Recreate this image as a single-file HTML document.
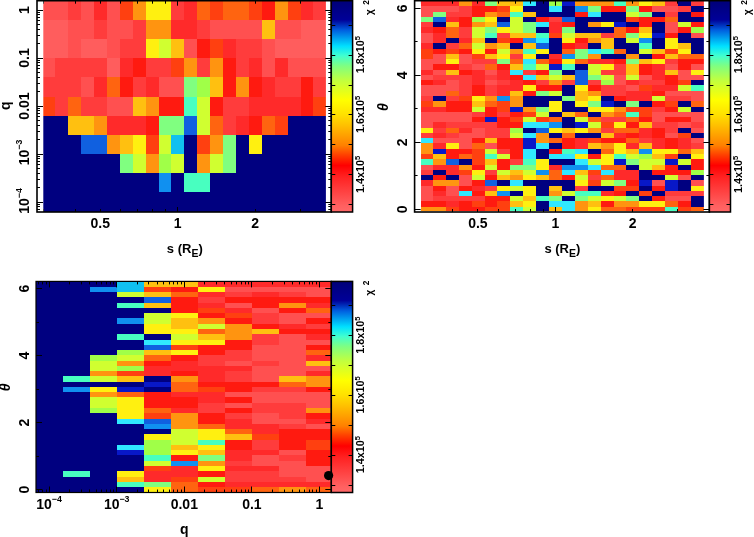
<!DOCTYPE html>
<html><head><meta charset="utf-8"><title>chi2 maps</title>
<style>html,body{margin:0;padding:0;background:#fff;}body{width:754px;height:537px;overflow:hidden;}svg{display:block;}</style>
</head><body>
<svg width="754" height="537" viewBox="0 0 754 537">
<defs><linearGradient id="cb" x1="0" y1="0" x2="0" y2="1">
<stop offset="0.0" stop-color="#000078"/>
<stop offset="0.09" stop-color="#000098"/>
<stop offset="0.14" stop-color="#0060e0"/>
<stop offset="0.215" stop-color="#00e0ff"/>
<stop offset="0.26" stop-color="#40ffd0"/>
<stop offset="0.31" stop-color="#80ff80"/>
<stop offset="0.375" stop-color="#c0ff40"/>
<stop offset="0.47" stop-color="#ffff00"/>
<stop offset="0.54" stop-color="#ffe000"/>
<stop offset="0.59" stop-color="#ffc000"/>
<stop offset="0.685" stop-color="#ff8000"/>
<stop offset="0.73" stop-color="#ff4000"/>
<stop offset="0.78" stop-color="#ff0000"/>
<stop offset="0.83" stop-color="#ff2020"/>
<stop offset="0.9" stop-color="#ff4040"/>
<stop offset="0.97" stop-color="#ff6060"/>
<stop offset="1.0" stop-color="#ff6868"/>
</linearGradient></defs>
<rect x="0" y="0" width="754" height="537" fill="#fff"/>
<g shape-rendering="crispEdges">
<rect x="43.30" y="1.40" width="12.00" height="18.47" fill="#ff5050"/>
<rect x="55.30" y="1.40" width="12.91" height="18.47" fill="#ff5050"/>
<rect x="68.20" y="1.40" width="12.91" height="18.47" fill="#ff3c3c"/>
<rect x="81.11" y="1.40" width="12.90" height="18.47" fill="#ff5050"/>
<rect x="94.01" y="1.40" width="12.91" height="18.47" fill="#ff2a2a"/>
<rect x="106.92" y="1.40" width="12.91" height="18.47" fill="#ff5050"/>
<rect x="119.82" y="1.40" width="12.91" height="18.47" fill="#ff4010"/>
<rect x="132.73" y="1.40" width="12.91" height="18.47" fill="#ff9410"/>
<rect x="145.63" y="1.40" width="12.91" height="18.47" fill="#fff010"/>
<rect x="158.54" y="1.40" width="12.91" height="18.47" fill="#fff010"/>
<rect x="171.44" y="1.40" width="12.90" height="18.47" fill="#ff3c3c"/>
<rect x="184.35" y="1.40" width="12.91" height="18.47" fill="#ff2a2a"/>
<rect x="197.25" y="1.40" width="12.90" height="18.47" fill="#ff6410"/>
<rect x="210.16" y="1.40" width="12.91" height="18.47" fill="#ff4010"/>
<rect x="223.06" y="1.40" width="12.90" height="18.47" fill="#ff6410"/>
<rect x="235.97" y="1.40" width="12.91" height="18.47" fill="#ff6410"/>
<rect x="248.88" y="1.40" width="12.90" height="18.47" fill="#ff4010"/>
<rect x="261.78" y="1.40" width="12.91" height="18.47" fill="#ff1a10"/>
<rect x="274.69" y="1.40" width="12.90" height="18.47" fill="#ff9410"/>
<rect x="287.59" y="1.40" width="12.91" height="18.47" fill="#ff4010"/>
<rect x="300.50" y="1.40" width="12.90" height="18.47" fill="#ff2a2a"/>
<rect x="313.40" y="1.40" width="12.50" height="18.47" fill="#ff3c3c"/>
<rect x="43.30" y="19.87" width="12.00" height="19.17" fill="#ff5d5d"/>
<rect x="55.30" y="19.87" width="12.91" height="19.17" fill="#ff5d5d"/>
<rect x="68.20" y="19.87" width="12.91" height="19.17" fill="#ff5050"/>
<rect x="81.11" y="19.87" width="12.90" height="19.17" fill="#ff5050"/>
<rect x="94.01" y="19.87" width="12.91" height="19.17" fill="#ff3c3c"/>
<rect x="106.92" y="19.87" width="12.91" height="19.17" fill="#ff5050"/>
<rect x="119.82" y="19.87" width="12.91" height="19.17" fill="#ff5050"/>
<rect x="132.73" y="19.87" width="12.91" height="19.17" fill="#ff3c3c"/>
<rect x="145.63" y="19.87" width="12.91" height="19.17" fill="#ff9410"/>
<rect x="158.54" y="19.87" width="12.91" height="19.17" fill="#ff9410"/>
<rect x="171.44" y="19.87" width="12.90" height="19.17" fill="#ff2a2a"/>
<rect x="184.35" y="19.87" width="12.91" height="19.17" fill="#ff2a2a"/>
<rect x="197.25" y="19.87" width="12.90" height="19.17" fill="#ff3c3c"/>
<rect x="210.16" y="19.87" width="12.91" height="19.17" fill="#ff5050"/>
<rect x="223.06" y="19.87" width="12.90" height="19.17" fill="#ff5050"/>
<rect x="235.97" y="19.87" width="12.91" height="19.17" fill="#ff5050"/>
<rect x="248.88" y="19.87" width="12.90" height="19.17" fill="#ff5050"/>
<rect x="261.78" y="19.87" width="12.91" height="19.17" fill="#ffc010"/>
<rect x="274.69" y="19.87" width="12.90" height="19.17" fill="#ff5050"/>
<rect x="287.59" y="19.87" width="12.91" height="19.17" fill="#ff5050"/>
<rect x="300.50" y="19.87" width="12.90" height="19.17" fill="#ff5d5d"/>
<rect x="313.40" y="19.87" width="12.50" height="19.17" fill="#ff5d5d"/>
<rect x="43.30" y="39.04" width="12.00" height="19.17" fill="#ff5d5d"/>
<rect x="55.30" y="39.04" width="12.91" height="19.17" fill="#ff5d5d"/>
<rect x="68.20" y="39.04" width="12.91" height="19.17" fill="#ff5050"/>
<rect x="81.11" y="39.04" width="12.90" height="19.17" fill="#ff5d5d"/>
<rect x="94.01" y="39.04" width="12.91" height="19.17" fill="#ff5d5d"/>
<rect x="106.92" y="39.04" width="12.91" height="19.17" fill="#ff5050"/>
<rect x="119.82" y="39.04" width="12.91" height="19.17" fill="#ff3c3c"/>
<rect x="132.73" y="39.04" width="12.91" height="19.17" fill="#ff3c3c"/>
<rect x="145.63" y="39.04" width="12.91" height="19.17" fill="#fff010"/>
<rect x="158.54" y="39.04" width="12.91" height="19.17" fill="#d0ff30"/>
<rect x="171.44" y="39.04" width="12.90" height="19.17" fill="#ffc010"/>
<rect x="184.35" y="39.04" width="12.91" height="19.17" fill="#ff5050"/>
<rect x="197.25" y="39.04" width="12.90" height="19.17" fill="#ff1a10"/>
<rect x="210.16" y="39.04" width="12.91" height="19.17" fill="#ff4010"/>
<rect x="223.06" y="39.04" width="12.90" height="19.17" fill="#ff2a2a"/>
<rect x="235.97" y="39.04" width="12.91" height="19.17" fill="#ff3c3c"/>
<rect x="248.88" y="39.04" width="12.90" height="19.17" fill="#ff3c3c"/>
<rect x="261.78" y="39.04" width="12.91" height="19.17" fill="#ff5050"/>
<rect x="274.69" y="39.04" width="12.90" height="19.17" fill="#ff5d5d"/>
<rect x="287.59" y="39.04" width="12.91" height="19.17" fill="#ff5d5d"/>
<rect x="300.50" y="39.04" width="12.90" height="19.17" fill="#ff5d5d"/>
<rect x="313.40" y="39.04" width="12.50" height="19.17" fill="#ff5d5d"/>
<rect x="43.30" y="58.21" width="12.00" height="19.17" fill="#ff5050"/>
<rect x="55.30" y="58.21" width="12.91" height="19.17" fill="#ff3c3c"/>
<rect x="68.20" y="58.21" width="12.91" height="19.17" fill="#ff3c3c"/>
<rect x="81.11" y="58.21" width="12.90" height="19.17" fill="#ff3c3c"/>
<rect x="94.01" y="58.21" width="12.91" height="19.17" fill="#ff3c3c"/>
<rect x="106.92" y="58.21" width="12.91" height="19.17" fill="#ff5d5d"/>
<rect x="119.82" y="58.21" width="12.91" height="19.17" fill="#ff2a2a"/>
<rect x="132.73" y="58.21" width="12.91" height="19.17" fill="#ff1a10"/>
<rect x="145.63" y="58.21" width="12.91" height="19.17" fill="#ff3c3c"/>
<rect x="158.54" y="58.21" width="12.91" height="19.17" fill="#ff3c3c"/>
<rect x="171.44" y="58.21" width="12.90" height="19.17" fill="#ff4010"/>
<rect x="184.35" y="58.21" width="12.91" height="19.17" fill="#ff9410"/>
<rect x="197.25" y="58.21" width="12.90" height="19.17" fill="#ff3c3c"/>
<rect x="210.16" y="58.21" width="12.91" height="19.17" fill="#ff9410"/>
<rect x="223.06" y="58.21" width="12.90" height="19.17" fill="#ff1a10"/>
<rect x="235.97" y="58.21" width="12.91" height="19.17" fill="#ff3c3c"/>
<rect x="248.88" y="58.21" width="12.90" height="19.17" fill="#ff2a2a"/>
<rect x="261.78" y="58.21" width="12.91" height="19.17" fill="#ff5050"/>
<rect x="274.69" y="58.21" width="12.90" height="19.17" fill="#ff2a2a"/>
<rect x="287.59" y="58.21" width="12.91" height="19.17" fill="#ff5050"/>
<rect x="300.50" y="58.21" width="12.90" height="19.17" fill="#ff5050"/>
<rect x="313.40" y="58.21" width="12.50" height="19.17" fill="#ff5050"/>
<rect x="43.30" y="77.38" width="12.00" height="19.17" fill="#ff3c3c"/>
<rect x="55.30" y="77.38" width="12.91" height="19.17" fill="#ff3c3c"/>
<rect x="68.20" y="77.38" width="12.91" height="19.17" fill="#ff3c3c"/>
<rect x="81.11" y="77.38" width="12.90" height="19.17" fill="#ff5050"/>
<rect x="94.01" y="77.38" width="12.91" height="19.17" fill="#ff2a2a"/>
<rect x="106.92" y="77.38" width="12.91" height="19.17" fill="#ff6410"/>
<rect x="119.82" y="77.38" width="12.91" height="19.17" fill="#ff1a10"/>
<rect x="132.73" y="77.38" width="12.91" height="19.17" fill="#ff3c3c"/>
<rect x="145.63" y="77.38" width="12.91" height="19.17" fill="#ff2a2a"/>
<rect x="158.54" y="77.38" width="12.91" height="19.17" fill="#ff5050"/>
<rect x="171.44" y="77.38" width="12.90" height="19.17" fill="#ff5050"/>
<rect x="184.35" y="77.38" width="12.91" height="19.17" fill="#80ff80"/>
<rect x="197.25" y="77.38" width="12.90" height="19.17" fill="#a0ff48"/>
<rect x="210.16" y="77.38" width="12.91" height="19.17" fill="#ffc010"/>
<rect x="223.06" y="77.38" width="12.90" height="19.17" fill="#ff1a10"/>
<rect x="235.97" y="77.38" width="12.91" height="19.17" fill="#ff9410"/>
<rect x="248.88" y="77.38" width="12.90" height="19.17" fill="#ff1a10"/>
<rect x="261.78" y="77.38" width="12.91" height="19.17" fill="#ff2a2a"/>
<rect x="274.69" y="77.38" width="12.90" height="19.17" fill="#ff3c3c"/>
<rect x="287.59" y="77.38" width="12.91" height="19.17" fill="#ff3c3c"/>
<rect x="300.50" y="77.38" width="12.90" height="19.17" fill="#ff1a10"/>
<rect x="313.40" y="77.38" width="12.50" height="19.17" fill="#ff3c3c"/>
<rect x="43.30" y="96.55" width="12.00" height="19.17" fill="#ff4010"/>
<rect x="55.30" y="96.55" width="12.91" height="19.17" fill="#ff3c3c"/>
<rect x="68.20" y="96.55" width="12.91" height="19.17" fill="#ff6410"/>
<rect x="81.11" y="96.55" width="12.90" height="19.17" fill="#ff3c3c"/>
<rect x="94.01" y="96.55" width="12.91" height="19.17" fill="#ff3c3c"/>
<rect x="106.92" y="96.55" width="12.91" height="19.17" fill="#ff5050"/>
<rect x="119.82" y="96.55" width="12.91" height="19.17" fill="#ff5050"/>
<rect x="132.73" y="96.55" width="12.91" height="19.17" fill="#ffc010"/>
<rect x="145.63" y="96.55" width="12.91" height="19.17" fill="#ff9410"/>
<rect x="158.54" y="96.55" width="12.91" height="19.17" fill="#ff1a10"/>
<rect x="171.44" y="96.55" width="12.90" height="19.17" fill="#ff1a10"/>
<rect x="184.35" y="96.55" width="12.91" height="19.17" fill="#48ffc0"/>
<rect x="197.25" y="96.55" width="12.90" height="19.17" fill="#d0ff30"/>
<rect x="210.16" y="96.55" width="12.91" height="19.17" fill="#ff1a10"/>
<rect x="223.06" y="96.55" width="12.90" height="19.17" fill="#ff3c3c"/>
<rect x="235.97" y="96.55" width="12.91" height="19.17" fill="#ff3c3c"/>
<rect x="248.88" y="96.55" width="12.90" height="19.17" fill="#ff2a2a"/>
<rect x="261.78" y="96.55" width="12.91" height="19.17" fill="#ff2a2a"/>
<rect x="274.69" y="96.55" width="12.90" height="19.17" fill="#ff2a2a"/>
<rect x="287.59" y="96.55" width="12.91" height="19.17" fill="#ff2a2a"/>
<rect x="300.50" y="96.55" width="12.90" height="19.17" fill="#ff1a10"/>
<rect x="313.40" y="96.55" width="12.50" height="19.17" fill="#ff4010"/>
<rect x="43.30" y="115.72" width="12.00" height="19.17" fill="#000080"/>
<rect x="55.30" y="115.72" width="12.91" height="19.17" fill="#000080"/>
<rect x="68.20" y="115.72" width="12.91" height="19.17" fill="#ffc010"/>
<rect x="81.11" y="115.72" width="12.90" height="19.17" fill="#ffc010"/>
<rect x="94.01" y="115.72" width="12.91" height="19.17" fill="#ff9410"/>
<rect x="106.92" y="115.72" width="12.91" height="19.17" fill="#ff2a2a"/>
<rect x="119.82" y="115.72" width="12.91" height="19.17" fill="#ff2a2a"/>
<rect x="132.73" y="115.72" width="12.91" height="19.17" fill="#ff2a2a"/>
<rect x="145.63" y="115.72" width="12.91" height="19.17" fill="#ff1a10"/>
<rect x="158.54" y="115.72" width="12.91" height="19.17" fill="#80ff80"/>
<rect x="171.44" y="115.72" width="12.90" height="19.17" fill="#80ff80"/>
<rect x="184.35" y="115.72" width="12.91" height="19.17" fill="#1060e0"/>
<rect x="197.25" y="115.72" width="12.90" height="19.17" fill="#d0ff30"/>
<rect x="210.16" y="115.72" width="12.91" height="19.17" fill="#ff6410"/>
<rect x="223.06" y="115.72" width="12.90" height="19.17" fill="#ff3c3c"/>
<rect x="235.97" y="115.72" width="12.91" height="19.17" fill="#ff2a2a"/>
<rect x="248.88" y="115.72" width="12.90" height="19.17" fill="#ff1a10"/>
<rect x="261.78" y="115.72" width="12.91" height="19.17" fill="#ff6410"/>
<rect x="274.69" y="115.72" width="12.90" height="19.17" fill="#ff4010"/>
<rect x="287.59" y="115.72" width="12.91" height="19.17" fill="#000080"/>
<rect x="300.50" y="115.72" width="12.90" height="19.17" fill="#000080"/>
<rect x="313.40" y="115.72" width="12.50" height="19.17" fill="#000080"/>
<rect x="43.30" y="134.89" width="12.00" height="19.17" fill="#000080"/>
<rect x="55.30" y="134.89" width="12.91" height="19.17" fill="#000080"/>
<rect x="68.20" y="134.89" width="12.91" height="19.17" fill="#000080"/>
<rect x="81.11" y="134.89" width="12.90" height="19.17" fill="#1060e0"/>
<rect x="94.01" y="134.89" width="12.91" height="19.17" fill="#1060e0"/>
<rect x="106.92" y="134.89" width="12.91" height="19.17" fill="#ff9410"/>
<rect x="119.82" y="134.89" width="12.91" height="19.17" fill="#ffc010"/>
<rect x="132.73" y="134.89" width="12.91" height="19.17" fill="#fff010"/>
<rect x="145.63" y="134.89" width="12.91" height="19.17" fill="#ff4010"/>
<rect x="158.54" y="134.89" width="12.91" height="19.17" fill="#d0ff30"/>
<rect x="171.44" y="134.89" width="12.90" height="19.17" fill="#10c0f0"/>
<rect x="184.35" y="134.89" width="12.91" height="19.17" fill="#000080"/>
<rect x="197.25" y="134.89" width="12.90" height="19.17" fill="#ff4010"/>
<rect x="210.16" y="134.89" width="12.91" height="19.17" fill="#ff9410"/>
<rect x="223.06" y="134.89" width="12.90" height="19.17" fill="#80ff80"/>
<rect x="235.97" y="134.89" width="12.91" height="19.17" fill="#000080"/>
<rect x="248.88" y="134.89" width="12.90" height="19.17" fill="#fff010"/>
<rect x="261.78" y="134.89" width="12.91" height="19.17" fill="#000080"/>
<rect x="274.69" y="134.89" width="12.90" height="19.17" fill="#000080"/>
<rect x="287.59" y="134.89" width="12.91" height="19.17" fill="#000080"/>
<rect x="300.50" y="134.89" width="12.90" height="19.17" fill="#000080"/>
<rect x="313.40" y="134.89" width="12.50" height="19.17" fill="#000080"/>
<rect x="43.30" y="154.06" width="12.00" height="19.17" fill="#000080"/>
<rect x="55.30" y="154.06" width="12.91" height="19.17" fill="#000080"/>
<rect x="68.20" y="154.06" width="12.91" height="19.17" fill="#000080"/>
<rect x="81.11" y="154.06" width="12.90" height="19.17" fill="#000080"/>
<rect x="94.01" y="154.06" width="12.91" height="19.17" fill="#000080"/>
<rect x="106.92" y="154.06" width="12.91" height="19.17" fill="#000080"/>
<rect x="119.82" y="154.06" width="12.91" height="19.17" fill="#80ff80"/>
<rect x="132.73" y="154.06" width="12.91" height="19.17" fill="#d0ff30"/>
<rect x="145.63" y="154.06" width="12.91" height="19.17" fill="#ff9410"/>
<rect x="158.54" y="154.06" width="12.91" height="19.17" fill="#a0ff48"/>
<rect x="171.44" y="154.06" width="12.90" height="19.17" fill="#d0ff30"/>
<rect x="184.35" y="154.06" width="12.91" height="19.17" fill="#000080"/>
<rect x="197.25" y="154.06" width="12.90" height="19.17" fill="#ff9410"/>
<rect x="210.16" y="154.06" width="12.91" height="19.17" fill="#d0ff30"/>
<rect x="223.06" y="154.06" width="12.90" height="19.17" fill="#80ff80"/>
<rect x="235.97" y="154.06" width="12.91" height="19.17" fill="#000080"/>
<rect x="248.88" y="154.06" width="12.90" height="19.17" fill="#000080"/>
<rect x="261.78" y="154.06" width="12.91" height="19.17" fill="#000080"/>
<rect x="274.69" y="154.06" width="12.90" height="19.17" fill="#000080"/>
<rect x="287.59" y="154.06" width="12.91" height="19.17" fill="#000080"/>
<rect x="300.50" y="154.06" width="12.90" height="19.17" fill="#000080"/>
<rect x="313.40" y="154.06" width="12.50" height="19.17" fill="#000080"/>
<rect x="43.30" y="173.23" width="12.00" height="19.17" fill="#000080"/>
<rect x="55.30" y="173.23" width="12.91" height="19.17" fill="#000080"/>
<rect x="68.20" y="173.23" width="12.91" height="19.17" fill="#000080"/>
<rect x="81.11" y="173.23" width="12.90" height="19.17" fill="#000080"/>
<rect x="94.01" y="173.23" width="12.91" height="19.17" fill="#000080"/>
<rect x="106.92" y="173.23" width="12.91" height="19.17" fill="#000080"/>
<rect x="119.82" y="173.23" width="12.91" height="19.17" fill="#000080"/>
<rect x="132.73" y="173.23" width="12.91" height="19.17" fill="#000080"/>
<rect x="145.63" y="173.23" width="12.91" height="19.17" fill="#000080"/>
<rect x="158.54" y="173.23" width="12.91" height="19.17" fill="#1090f0"/>
<rect x="171.44" y="173.23" width="12.90" height="19.17" fill="#000080"/>
<rect x="184.35" y="173.23" width="12.91" height="19.17" fill="#48ffc0"/>
<rect x="197.25" y="173.23" width="12.90" height="19.17" fill="#48ffc0"/>
<rect x="210.16" y="173.23" width="12.91" height="19.17" fill="#000080"/>
<rect x="223.06" y="173.23" width="12.90" height="19.17" fill="#000080"/>
<rect x="235.97" y="173.23" width="12.91" height="19.17" fill="#000080"/>
<rect x="248.88" y="173.23" width="12.90" height="19.17" fill="#000080"/>
<rect x="261.78" y="173.23" width="12.91" height="19.17" fill="#000080"/>
<rect x="274.69" y="173.23" width="12.90" height="19.17" fill="#000080"/>
<rect x="287.59" y="173.23" width="12.91" height="19.17" fill="#000080"/>
<rect x="300.50" y="173.23" width="12.90" height="19.17" fill="#000080"/>
<rect x="313.40" y="173.23" width="12.50" height="19.17" fill="#000080"/>
<rect x="43.30" y="192.40" width="12.00" height="19.60" fill="#000080"/>
<rect x="55.30" y="192.40" width="12.91" height="19.60" fill="#000080"/>
<rect x="68.20" y="192.40" width="12.91" height="19.60" fill="#000080"/>
<rect x="81.11" y="192.40" width="12.90" height="19.60" fill="#000080"/>
<rect x="94.01" y="192.40" width="12.91" height="19.60" fill="#000080"/>
<rect x="106.92" y="192.40" width="12.91" height="19.60" fill="#000080"/>
<rect x="119.82" y="192.40" width="12.91" height="19.60" fill="#000080"/>
<rect x="132.73" y="192.40" width="12.91" height="19.60" fill="#000080"/>
<rect x="145.63" y="192.40" width="12.91" height="19.60" fill="#000080"/>
<rect x="158.54" y="192.40" width="12.91" height="19.60" fill="#000080"/>
<rect x="171.44" y="192.40" width="12.90" height="19.60" fill="#000080"/>
<rect x="184.35" y="192.40" width="12.91" height="19.60" fill="#000080"/>
<rect x="197.25" y="192.40" width="12.90" height="19.60" fill="#000080"/>
<rect x="210.16" y="192.40" width="12.91" height="19.60" fill="#000080"/>
<rect x="223.06" y="192.40" width="12.90" height="19.60" fill="#000080"/>
<rect x="235.97" y="192.40" width="12.91" height="19.60" fill="#000080"/>
<rect x="248.88" y="192.40" width="12.90" height="19.60" fill="#000080"/>
<rect x="261.78" y="192.40" width="12.91" height="19.60" fill="#000080"/>
<rect x="274.69" y="192.40" width="12.90" height="19.60" fill="#000080"/>
<rect x="287.59" y="192.40" width="12.91" height="19.60" fill="#000080"/>
<rect x="300.50" y="192.40" width="12.90" height="19.60" fill="#000080"/>
<rect x="313.40" y="192.40" width="12.50" height="19.60" fill="#000080"/>
</g>
<line x1="43.50" y1="0.70" x2="43.50" y2="3.70" stroke="#000" stroke-width="1.0"/>
<line x1="43.50" y1="212.00" x2="43.50" y2="209.00" stroke="#000" stroke-width="1.0"/>
<line x1="75.50" y1="0.70" x2="75.50" y2="3.70" stroke="#000" stroke-width="1.0"/>
<line x1="75.50" y1="212.00" x2="75.50" y2="209.00" stroke="#000" stroke-width="1.0"/>
<line x1="100.50" y1="0.70" x2="100.50" y2="3.70" stroke="#000" stroke-width="1.0"/>
<line x1="100.50" y1="212.00" x2="100.50" y2="209.00" stroke="#000" stroke-width="1.0"/>
<line x1="120.50" y1="0.70" x2="120.50" y2="3.70" stroke="#000" stroke-width="1.0"/>
<line x1="120.50" y1="212.00" x2="120.50" y2="209.00" stroke="#000" stroke-width="1.0"/>
<line x1="137.50" y1="0.70" x2="137.50" y2="3.70" stroke="#000" stroke-width="1.0"/>
<line x1="137.50" y1="212.00" x2="137.50" y2="209.00" stroke="#000" stroke-width="1.0"/>
<line x1="152.50" y1="0.70" x2="152.50" y2="3.70" stroke="#000" stroke-width="1.0"/>
<line x1="152.50" y1="212.00" x2="152.50" y2="209.00" stroke="#000" stroke-width="1.0"/>
<line x1="165.50" y1="0.70" x2="165.50" y2="3.70" stroke="#000" stroke-width="1.0"/>
<line x1="165.50" y1="212.00" x2="165.50" y2="209.00" stroke="#000" stroke-width="1.0"/>
<line x1="177.50" y1="0.70" x2="177.50" y2="5.70" stroke="#000" stroke-width="1.0"/>
<line x1="177.50" y1="212.00" x2="177.50" y2="207.00" stroke="#000" stroke-width="1.0"/>
<line x1="255.50" y1="0.70" x2="255.50" y2="3.70" stroke="#000" stroke-width="1.0"/>
<line x1="255.50" y1="212.00" x2="255.50" y2="209.00" stroke="#000" stroke-width="1.0"/>
<line x1="300.50" y1="0.70" x2="300.50" y2="3.70" stroke="#000" stroke-width="1.0"/>
<line x1="300.50" y1="212.00" x2="300.50" y2="209.00" stroke="#000" stroke-width="1.0"/>
<rect x="37.00" y="0.70" width="6.30" height="211.30" fill="#fff"/>
<rect x="325.90" y="0.70" width="5.40" height="211.30" fill="#fff"/>
<line x1="37.00" y1="10.50" x2="43.00" y2="10.50" stroke="#000" stroke-width="1.0"/>
<line x1="331.30" y1="10.50" x2="325.30" y2="10.50" stroke="#000" stroke-width="1.0"/>
<line x1="37.00" y1="58.50" x2="43.00" y2="58.50" stroke="#000" stroke-width="1.0"/>
<line x1="331.30" y1="58.50" x2="325.30" y2="58.50" stroke="#000" stroke-width="1.0"/>
<line x1="37.00" y1="43.50" x2="40.00" y2="43.50" stroke="#000" stroke-width="1.0"/>
<line x1="331.30" y1="43.50" x2="328.30" y2="43.50" stroke="#000" stroke-width="1.0"/>
<line x1="37.00" y1="35.50" x2="40.00" y2="35.50" stroke="#000" stroke-width="1.0"/>
<line x1="331.30" y1="35.50" x2="328.30" y2="35.50" stroke="#000" stroke-width="1.0"/>
<line x1="37.00" y1="29.50" x2="40.00" y2="29.50" stroke="#000" stroke-width="1.0"/>
<line x1="331.30" y1="29.50" x2="328.30" y2="29.50" stroke="#000" stroke-width="1.0"/>
<line x1="37.00" y1="24.50" x2="40.00" y2="24.50" stroke="#000" stroke-width="1.0"/>
<line x1="331.30" y1="24.50" x2="328.30" y2="24.50" stroke="#000" stroke-width="1.0"/>
<line x1="37.00" y1="20.50" x2="40.00" y2="20.50" stroke="#000" stroke-width="1.0"/>
<line x1="331.30" y1="20.50" x2="328.30" y2="20.50" stroke="#000" stroke-width="1.0"/>
<line x1="37.00" y1="17.50" x2="40.00" y2="17.50" stroke="#000" stroke-width="1.0"/>
<line x1="331.30" y1="17.50" x2="328.30" y2="17.50" stroke="#000" stroke-width="1.0"/>
<line x1="37.00" y1="14.50" x2="40.00" y2="14.50" stroke="#000" stroke-width="1.0"/>
<line x1="331.30" y1="14.50" x2="328.30" y2="14.50" stroke="#000" stroke-width="1.0"/>
<line x1="37.00" y1="12.50" x2="40.00" y2="12.50" stroke="#000" stroke-width="1.0"/>
<line x1="331.30" y1="12.50" x2="328.30" y2="12.50" stroke="#000" stroke-width="1.0"/>
<line x1="37.00" y1="106.50" x2="43.00" y2="106.50" stroke="#000" stroke-width="1.0"/>
<line x1="331.30" y1="106.50" x2="325.30" y2="106.50" stroke="#000" stroke-width="1.0"/>
<line x1="37.00" y1="91.50" x2="40.00" y2="91.50" stroke="#000" stroke-width="1.0"/>
<line x1="331.30" y1="91.50" x2="328.30" y2="91.50" stroke="#000" stroke-width="1.0"/>
<line x1="37.00" y1="83.50" x2="40.00" y2="83.50" stroke="#000" stroke-width="1.0"/>
<line x1="331.30" y1="83.50" x2="328.30" y2="83.50" stroke="#000" stroke-width="1.0"/>
<line x1="37.00" y1="77.50" x2="40.00" y2="77.50" stroke="#000" stroke-width="1.0"/>
<line x1="331.30" y1="77.50" x2="328.30" y2="77.50" stroke="#000" stroke-width="1.0"/>
<line x1="37.00" y1="72.50" x2="40.00" y2="72.50" stroke="#000" stroke-width="1.0"/>
<line x1="331.30" y1="72.50" x2="328.30" y2="72.50" stroke="#000" stroke-width="1.0"/>
<line x1="37.00" y1="68.50" x2="40.00" y2="68.50" stroke="#000" stroke-width="1.0"/>
<line x1="331.30" y1="68.50" x2="328.30" y2="68.50" stroke="#000" stroke-width="1.0"/>
<line x1="37.00" y1="65.50" x2="40.00" y2="65.50" stroke="#000" stroke-width="1.0"/>
<line x1="331.30" y1="65.50" x2="328.30" y2="65.50" stroke="#000" stroke-width="1.0"/>
<line x1="37.00" y1="62.50" x2="40.00" y2="62.50" stroke="#000" stroke-width="1.0"/>
<line x1="331.30" y1="62.50" x2="328.30" y2="62.50" stroke="#000" stroke-width="1.0"/>
<line x1="37.00" y1="60.50" x2="40.00" y2="60.50" stroke="#000" stroke-width="1.0"/>
<line x1="331.30" y1="60.50" x2="328.30" y2="60.50" stroke="#000" stroke-width="1.0"/>
<line x1="37.00" y1="154.50" x2="43.00" y2="154.50" stroke="#000" stroke-width="1.0"/>
<line x1="331.30" y1="154.50" x2="325.30" y2="154.50" stroke="#000" stroke-width="1.0"/>
<line x1="37.00" y1="139.50" x2="40.00" y2="139.50" stroke="#000" stroke-width="1.0"/>
<line x1="331.30" y1="139.50" x2="328.30" y2="139.50" stroke="#000" stroke-width="1.0"/>
<line x1="37.00" y1="131.50" x2="40.00" y2="131.50" stroke="#000" stroke-width="1.0"/>
<line x1="331.30" y1="131.50" x2="328.30" y2="131.50" stroke="#000" stroke-width="1.0"/>
<line x1="37.00" y1="125.50" x2="40.00" y2="125.50" stroke="#000" stroke-width="1.0"/>
<line x1="331.30" y1="125.50" x2="328.30" y2="125.50" stroke="#000" stroke-width="1.0"/>
<line x1="37.00" y1="120.50" x2="40.00" y2="120.50" stroke="#000" stroke-width="1.0"/>
<line x1="331.30" y1="120.50" x2="328.30" y2="120.50" stroke="#000" stroke-width="1.0"/>
<line x1="37.00" y1="116.50" x2="40.00" y2="116.50" stroke="#000" stroke-width="1.0"/>
<line x1="331.30" y1="116.50" x2="328.30" y2="116.50" stroke="#000" stroke-width="1.0"/>
<line x1="37.00" y1="113.50" x2="40.00" y2="113.50" stroke="#000" stroke-width="1.0"/>
<line x1="331.30" y1="113.50" x2="328.30" y2="113.50" stroke="#000" stroke-width="1.0"/>
<line x1="37.00" y1="110.50" x2="40.00" y2="110.50" stroke="#000" stroke-width="1.0"/>
<line x1="331.30" y1="110.50" x2="328.30" y2="110.50" stroke="#000" stroke-width="1.0"/>
<line x1="37.00" y1="108.50" x2="40.00" y2="108.50" stroke="#000" stroke-width="1.0"/>
<line x1="331.30" y1="108.50" x2="328.30" y2="108.50" stroke="#000" stroke-width="1.0"/>
<line x1="37.00" y1="202.50" x2="43.00" y2="202.50" stroke="#000" stroke-width="1.0"/>
<line x1="331.30" y1="202.50" x2="325.30" y2="202.50" stroke="#000" stroke-width="1.0"/>
<line x1="37.00" y1="187.50" x2="40.00" y2="187.50" stroke="#000" stroke-width="1.0"/>
<line x1="331.30" y1="187.50" x2="328.30" y2="187.50" stroke="#000" stroke-width="1.0"/>
<line x1="37.00" y1="179.50" x2="40.00" y2="179.50" stroke="#000" stroke-width="1.0"/>
<line x1="331.30" y1="179.50" x2="328.30" y2="179.50" stroke="#000" stroke-width="1.0"/>
<line x1="37.00" y1="173.50" x2="40.00" y2="173.50" stroke="#000" stroke-width="1.0"/>
<line x1="331.30" y1="173.50" x2="328.30" y2="173.50" stroke="#000" stroke-width="1.0"/>
<line x1="37.00" y1="168.50" x2="40.00" y2="168.50" stroke="#000" stroke-width="1.0"/>
<line x1="331.30" y1="168.50" x2="328.30" y2="168.50" stroke="#000" stroke-width="1.0"/>
<line x1="37.00" y1="164.50" x2="40.00" y2="164.50" stroke="#000" stroke-width="1.0"/>
<line x1="331.30" y1="164.50" x2="328.30" y2="164.50" stroke="#000" stroke-width="1.0"/>
<line x1="37.00" y1="161.50" x2="40.00" y2="161.50" stroke="#000" stroke-width="1.0"/>
<line x1="331.30" y1="161.50" x2="328.30" y2="161.50" stroke="#000" stroke-width="1.0"/>
<line x1="37.00" y1="158.50" x2="40.00" y2="158.50" stroke="#000" stroke-width="1.0"/>
<line x1="331.30" y1="158.50" x2="328.30" y2="158.50" stroke="#000" stroke-width="1.0"/>
<line x1="37.00" y1="156.50" x2="40.00" y2="156.50" stroke="#000" stroke-width="1.0"/>
<line x1="331.30" y1="156.50" x2="328.30" y2="156.50" stroke="#000" stroke-width="1.0"/>
<line x1="37.00" y1="209.50" x2="40.00" y2="209.50" stroke="#000" stroke-width="1.0"/>
<line x1="331.30" y1="209.50" x2="328.30" y2="209.50" stroke="#000" stroke-width="1.0"/>
<line x1="37.00" y1="206.50" x2="40.00" y2="206.50" stroke="#000" stroke-width="1.0"/>
<line x1="331.30" y1="206.50" x2="328.30" y2="206.50" stroke="#000" stroke-width="1.0"/>
<line x1="37.00" y1="204.50" x2="40.00" y2="204.50" stroke="#000" stroke-width="1.0"/>
<line x1="331.30" y1="204.50" x2="328.30" y2="204.50" stroke="#000" stroke-width="1.0"/>
<rect x="37.00" y="0.70" width="294.30" height="211.30" fill="none" stroke="#000" stroke-width="1.6"/>
<g shape-rendering="crispEdges">
<rect x="420.90" y="1.40" width="12.00" height="5.00" fill="#ff2a2a"/>
<rect x="432.90" y="1.40" width="12.90" height="5.00" fill="#ff2a2a"/>
<rect x="445.80" y="1.40" width="12.91" height="5.00" fill="#ff2a2a"/>
<rect x="458.71" y="1.40" width="12.90" height="5.00" fill="#ff9410"/>
<rect x="471.61" y="1.40" width="12.91" height="5.00" fill="#ff2a2a"/>
<rect x="484.52" y="1.40" width="12.90" height="5.00" fill="#80ff80"/>
<rect x="497.42" y="1.40" width="12.91" height="5.00" fill="#ffc010"/>
<rect x="510.33" y="1.40" width="12.91" height="5.00" fill="#ffc010"/>
<rect x="523.24" y="1.40" width="12.90" height="5.00" fill="#30e8ff"/>
<rect x="536.14" y="1.40" width="12.90" height="5.00" fill="#000080"/>
<rect x="549.04" y="1.40" width="12.90" height="5.00" fill="#a0ff48"/>
<rect x="561.95" y="1.40" width="12.91" height="5.00" fill="#0818c8"/>
<rect x="574.86" y="1.40" width="12.90" height="5.00" fill="#ff9410"/>
<rect x="587.76" y="1.40" width="12.90" height="5.00" fill="#ff9410"/>
<rect x="600.66" y="1.40" width="12.90" height="5.00" fill="#ff9410"/>
<rect x="613.57" y="1.40" width="12.90" height="5.00" fill="#48ffc0"/>
<rect x="626.47" y="1.40" width="12.91" height="5.00" fill="#ff9410"/>
<rect x="639.38" y="1.40" width="12.90" height="5.00" fill="#fff010"/>
<rect x="652.28" y="1.40" width="12.90" height="5.00" fill="#ffc010"/>
<rect x="665.19" y="1.40" width="12.91" height="5.00" fill="#ff3c3c"/>
<rect x="678.10" y="1.40" width="12.90" height="5.00" fill="#000080"/>
<rect x="691.00" y="1.40" width="12.90" height="5.00" fill="#ff3c3c"/>
<rect x="420.90" y="6.40" width="12.00" height="5.27" fill="#ff5050"/>
<rect x="432.90" y="6.40" width="12.90" height="5.27" fill="#ff5050"/>
<rect x="445.80" y="6.40" width="12.91" height="5.27" fill="#ff5050"/>
<rect x="458.71" y="6.40" width="12.90" height="5.27" fill="#ff3c3c"/>
<rect x="471.61" y="6.40" width="12.91" height="5.27" fill="#ff1a10"/>
<rect x="484.52" y="6.40" width="12.90" height="5.27" fill="#ff1a10"/>
<rect x="497.42" y="6.40" width="12.91" height="5.27" fill="#ff4010"/>
<rect x="510.33" y="6.40" width="12.91" height="5.27" fill="#fff010"/>
<rect x="523.24" y="6.40" width="12.90" height="5.27" fill="#000080"/>
<rect x="536.14" y="6.40" width="12.90" height="5.27" fill="#000080"/>
<rect x="549.04" y="6.40" width="12.90" height="5.27" fill="#30e8ff"/>
<rect x="561.95" y="6.40" width="12.91" height="5.27" fill="#000080"/>
<rect x="574.86" y="6.40" width="12.90" height="5.27" fill="#1090f0"/>
<rect x="587.76" y="6.40" width="12.90" height="5.27" fill="#80ff80"/>
<rect x="600.66" y="6.40" width="12.90" height="5.27" fill="#ff1a10"/>
<rect x="613.57" y="6.40" width="12.90" height="5.27" fill="#ff1a10"/>
<rect x="626.47" y="6.40" width="12.91" height="5.27" fill="#80ff80"/>
<rect x="639.38" y="6.40" width="12.90" height="5.27" fill="#ff1a10"/>
<rect x="652.28" y="6.40" width="12.90" height="5.27" fill="#ff5050"/>
<rect x="665.19" y="6.40" width="12.91" height="5.27" fill="#ff5050"/>
<rect x="678.10" y="6.40" width="12.90" height="5.27" fill="#ff3c3c"/>
<rect x="691.00" y="6.40" width="12.90" height="5.27" fill="#000080"/>
<rect x="420.90" y="11.67" width="12.00" height="5.27" fill="#ff5050"/>
<rect x="432.90" y="11.67" width="12.90" height="5.27" fill="#80ff80"/>
<rect x="445.80" y="11.67" width="12.91" height="5.27" fill="#ff3c3c"/>
<rect x="458.71" y="11.67" width="12.90" height="5.27" fill="#ff3c3c"/>
<rect x="471.61" y="11.67" width="12.91" height="5.27" fill="#ff1a10"/>
<rect x="484.52" y="11.67" width="12.90" height="5.27" fill="#ff9410"/>
<rect x="497.42" y="11.67" width="12.91" height="5.27" fill="#ff6410"/>
<rect x="510.33" y="11.67" width="12.91" height="5.27" fill="#48ffc0"/>
<rect x="523.24" y="11.67" width="12.90" height="5.27" fill="#ffc010"/>
<rect x="536.14" y="11.67" width="12.90" height="5.27" fill="#000080"/>
<rect x="549.04" y="11.67" width="12.90" height="5.27" fill="#000080"/>
<rect x="561.95" y="11.67" width="12.91" height="5.27" fill="#000080"/>
<rect x="574.86" y="11.67" width="12.90" height="5.27" fill="#ff1a10"/>
<rect x="587.76" y="11.67" width="12.90" height="5.27" fill="#30e8ff"/>
<rect x="600.66" y="11.67" width="12.90" height="5.27" fill="#000080"/>
<rect x="613.57" y="11.67" width="12.90" height="5.27" fill="#000080"/>
<rect x="626.47" y="11.67" width="12.91" height="5.27" fill="#d0ff30"/>
<rect x="639.38" y="11.67" width="12.90" height="5.27" fill="#80ff80"/>
<rect x="652.28" y="11.67" width="12.90" height="5.27" fill="#000080"/>
<rect x="665.19" y="11.67" width="12.91" height="5.27" fill="#ff3c3c"/>
<rect x="678.10" y="11.67" width="12.90" height="5.27" fill="#000080"/>
<rect x="691.00" y="11.67" width="12.90" height="5.27" fill="#ff1a10"/>
<rect x="420.90" y="16.94" width="12.00" height="5.27" fill="#80ff80"/>
<rect x="432.90" y="16.94" width="12.90" height="5.27" fill="#1060e0"/>
<rect x="445.80" y="16.94" width="12.91" height="5.27" fill="#ff2a2a"/>
<rect x="458.71" y="16.94" width="12.90" height="5.27" fill="#ff1a10"/>
<rect x="471.61" y="16.94" width="12.91" height="5.27" fill="#a0ff48"/>
<rect x="484.52" y="16.94" width="12.90" height="5.27" fill="#fff010"/>
<rect x="497.42" y="16.94" width="12.91" height="5.27" fill="#000080"/>
<rect x="510.33" y="16.94" width="12.91" height="5.27" fill="#d0ff30"/>
<rect x="523.24" y="16.94" width="12.90" height="5.27" fill="#000080"/>
<rect x="536.14" y="16.94" width="12.90" height="5.27" fill="#ff1a10"/>
<rect x="549.04" y="16.94" width="12.90" height="5.27" fill="#ff3c3c"/>
<rect x="561.95" y="16.94" width="12.91" height="5.27" fill="#1060e0"/>
<rect x="574.86" y="16.94" width="12.90" height="5.27" fill="#000080"/>
<rect x="587.76" y="16.94" width="12.90" height="5.27" fill="#000080"/>
<rect x="600.66" y="16.94" width="12.90" height="5.27" fill="#000080"/>
<rect x="613.57" y="16.94" width="12.90" height="5.27" fill="#000080"/>
<rect x="626.47" y="16.94" width="12.91" height="5.27" fill="#ff4010"/>
<rect x="639.38" y="16.94" width="12.90" height="5.27" fill="#ff1a10"/>
<rect x="652.28" y="16.94" width="12.90" height="5.27" fill="#ff1a10"/>
<rect x="665.19" y="16.94" width="12.91" height="5.27" fill="#ff6410"/>
<rect x="678.10" y="16.94" width="12.90" height="5.27" fill="#000080"/>
<rect x="691.00" y="16.94" width="12.90" height="5.27" fill="#000080"/>
<rect x="420.90" y="22.21" width="12.00" height="5.27" fill="#ff3c3c"/>
<rect x="432.90" y="22.21" width="12.90" height="5.27" fill="#000080"/>
<rect x="445.80" y="22.21" width="12.91" height="5.27" fill="#ffc010"/>
<rect x="458.71" y="22.21" width="12.90" height="5.27" fill="#ff1a10"/>
<rect x="471.61" y="22.21" width="12.91" height="5.27" fill="#ff9410"/>
<rect x="484.52" y="22.21" width="12.90" height="5.27" fill="#ffc010"/>
<rect x="497.42" y="22.21" width="12.91" height="5.27" fill="#1060e0"/>
<rect x="510.33" y="22.21" width="12.91" height="5.27" fill="#d0ff30"/>
<rect x="523.24" y="22.21" width="12.90" height="5.27" fill="#80ff80"/>
<rect x="536.14" y="22.21" width="12.90" height="5.27" fill="#30e8ff"/>
<rect x="549.04" y="22.21" width="12.90" height="5.27" fill="#ff2a2a"/>
<rect x="561.95" y="22.21" width="12.91" height="5.27" fill="#ff1a10"/>
<rect x="574.86" y="22.21" width="12.90" height="5.27" fill="#000080"/>
<rect x="587.76" y="22.21" width="12.90" height="5.27" fill="#ff9410"/>
<rect x="600.66" y="22.21" width="12.90" height="5.27" fill="#fff010"/>
<rect x="613.57" y="22.21" width="12.90" height="5.27" fill="#0818c8"/>
<rect x="626.47" y="22.21" width="12.91" height="5.27" fill="#000080"/>
<rect x="639.38" y="22.21" width="12.90" height="5.27" fill="#ff1a10"/>
<rect x="652.28" y="22.21" width="12.90" height="5.27" fill="#000080"/>
<rect x="665.19" y="22.21" width="12.91" height="5.27" fill="#ff5050"/>
<rect x="678.10" y="22.21" width="12.90" height="5.27" fill="#d0ff30"/>
<rect x="691.00" y="22.21" width="12.90" height="5.27" fill="#ff1a10"/>
<rect x="420.90" y="27.48" width="12.00" height="5.27" fill="#ff2a2a"/>
<rect x="432.90" y="27.48" width="12.90" height="5.27" fill="#ff1a10"/>
<rect x="445.80" y="27.48" width="12.91" height="5.27" fill="#ff6410"/>
<rect x="458.71" y="27.48" width="12.90" height="5.27" fill="#ff3c3c"/>
<rect x="471.61" y="27.48" width="12.91" height="5.27" fill="#d0ff30"/>
<rect x="484.52" y="27.48" width="12.90" height="5.27" fill="#80ff80"/>
<rect x="497.42" y="27.48" width="12.91" height="5.27" fill="#fff010"/>
<rect x="510.33" y="27.48" width="12.91" height="5.27" fill="#d0ff30"/>
<rect x="523.24" y="27.48" width="12.90" height="5.27" fill="#80ff80"/>
<rect x="536.14" y="27.48" width="12.90" height="5.27" fill="#000080"/>
<rect x="549.04" y="27.48" width="12.90" height="5.27" fill="#ff2a2a"/>
<rect x="561.95" y="27.48" width="12.91" height="5.27" fill="#80ff80"/>
<rect x="574.86" y="27.48" width="12.90" height="5.27" fill="#000080"/>
<rect x="587.76" y="27.48" width="12.90" height="5.27" fill="#000080"/>
<rect x="600.66" y="27.48" width="12.90" height="5.27" fill="#000080"/>
<rect x="613.57" y="27.48" width="12.90" height="5.27" fill="#ff6410"/>
<rect x="626.47" y="27.48" width="12.91" height="5.27" fill="#ff1a10"/>
<rect x="639.38" y="27.48" width="12.90" height="5.27" fill="#ffc010"/>
<rect x="652.28" y="27.48" width="12.90" height="5.27" fill="#000080"/>
<rect x="665.19" y="27.48" width="12.91" height="5.27" fill="#ff5050"/>
<rect x="678.10" y="27.48" width="12.90" height="5.27" fill="#ff1a10"/>
<rect x="691.00" y="27.48" width="12.90" height="5.27" fill="#a0ff48"/>
<rect x="420.90" y="32.75" width="12.00" height="5.27" fill="#ff5050"/>
<rect x="432.90" y="32.75" width="12.90" height="5.27" fill="#ff2a2a"/>
<rect x="445.80" y="32.75" width="12.91" height="5.27" fill="#ff6410"/>
<rect x="458.71" y="32.75" width="12.90" height="5.27" fill="#ff3c3c"/>
<rect x="471.61" y="32.75" width="12.91" height="5.27" fill="#d0ff30"/>
<rect x="484.52" y="32.75" width="12.90" height="5.27" fill="#48ffc0"/>
<rect x="497.42" y="32.75" width="12.91" height="5.27" fill="#ff3c3c"/>
<rect x="510.33" y="32.75" width="12.91" height="5.27" fill="#ffc010"/>
<rect x="523.24" y="32.75" width="12.90" height="5.27" fill="#ffc010"/>
<rect x="536.14" y="32.75" width="12.90" height="5.27" fill="#48ffc0"/>
<rect x="549.04" y="32.75" width="12.90" height="5.27" fill="#ff4010"/>
<rect x="561.95" y="32.75" width="12.91" height="5.27" fill="#d0ff30"/>
<rect x="574.86" y="32.75" width="12.90" height="5.27" fill="#ffc010"/>
<rect x="587.76" y="32.75" width="12.90" height="5.27" fill="#ffc010"/>
<rect x="600.66" y="32.75" width="12.90" height="5.27" fill="#ff3c3c"/>
<rect x="613.57" y="32.75" width="12.90" height="5.27" fill="#ff6410"/>
<rect x="626.47" y="32.75" width="12.91" height="5.27" fill="#80ff80"/>
<rect x="639.38" y="32.75" width="12.90" height="5.27" fill="#fff010"/>
<rect x="652.28" y="32.75" width="12.90" height="5.27" fill="#0818c8"/>
<rect x="665.19" y="32.75" width="12.91" height="5.27" fill="#ff1a10"/>
<rect x="678.10" y="32.75" width="12.90" height="5.27" fill="#000080"/>
<rect x="691.00" y="32.75" width="12.90" height="5.27" fill="#ff5050"/>
<rect x="420.90" y="38.02" width="12.00" height="5.27" fill="#ff5050"/>
<rect x="432.90" y="38.02" width="12.90" height="5.27" fill="#ff2a2a"/>
<rect x="445.80" y="38.02" width="12.91" height="5.27" fill="#000080"/>
<rect x="458.71" y="38.02" width="12.90" height="5.27" fill="#ff2a2a"/>
<rect x="471.61" y="38.02" width="12.91" height="5.27" fill="#ffc010"/>
<rect x="484.52" y="38.02" width="12.90" height="5.27" fill="#000080"/>
<rect x="497.42" y="38.02" width="12.91" height="5.27" fill="#ff4010"/>
<rect x="510.33" y="38.02" width="12.91" height="5.27" fill="#ff1a10"/>
<rect x="523.24" y="38.02" width="12.90" height="5.27" fill="#1090f0"/>
<rect x="536.14" y="38.02" width="12.90" height="5.27" fill="#30e8ff"/>
<rect x="549.04" y="38.02" width="12.90" height="5.27" fill="#000080"/>
<rect x="561.95" y="38.02" width="12.91" height="5.27" fill="#fff010"/>
<rect x="574.86" y="38.02" width="12.90" height="5.27" fill="#ff1a10"/>
<rect x="587.76" y="38.02" width="12.90" height="5.27" fill="#ff9410"/>
<rect x="600.66" y="38.02" width="12.90" height="5.27" fill="#ffc010"/>
<rect x="613.57" y="38.02" width="12.90" height="5.27" fill="#000080"/>
<rect x="626.47" y="38.02" width="12.91" height="5.27" fill="#d0ff30"/>
<rect x="639.38" y="38.02" width="12.90" height="5.27" fill="#1090f0"/>
<rect x="652.28" y="38.02" width="12.90" height="5.27" fill="#000080"/>
<rect x="665.19" y="38.02" width="12.91" height="5.27" fill="#fff010"/>
<rect x="678.10" y="38.02" width="12.90" height="5.27" fill="#000080"/>
<rect x="691.00" y="38.02" width="12.90" height="5.27" fill="#000080"/>
<rect x="420.90" y="43.29" width="12.00" height="5.27" fill="#ff2a2a"/>
<rect x="432.90" y="43.29" width="12.90" height="5.27" fill="#000080"/>
<rect x="445.80" y="43.29" width="12.91" height="5.27" fill="#ff3c3c"/>
<rect x="458.71" y="43.29" width="12.90" height="5.27" fill="#ff6410"/>
<rect x="471.61" y="43.29" width="12.91" height="5.27" fill="#d0ff30"/>
<rect x="484.52" y="43.29" width="12.90" height="5.27" fill="#ff9410"/>
<rect x="497.42" y="43.29" width="12.91" height="5.27" fill="#ffc010"/>
<rect x="510.33" y="43.29" width="12.91" height="5.27" fill="#000080"/>
<rect x="523.24" y="43.29" width="12.90" height="5.27" fill="#ffc010"/>
<rect x="536.14" y="43.29" width="12.90" height="5.27" fill="#1060e0"/>
<rect x="549.04" y="43.29" width="12.90" height="5.27" fill="#000080"/>
<rect x="561.95" y="43.29" width="12.91" height="5.27" fill="#ff1a10"/>
<rect x="574.86" y="43.29" width="12.90" height="5.27" fill="#ff2a2a"/>
<rect x="587.76" y="43.29" width="12.90" height="5.27" fill="#000080"/>
<rect x="600.66" y="43.29" width="12.90" height="5.27" fill="#ffc010"/>
<rect x="613.57" y="43.29" width="12.90" height="5.27" fill="#000080"/>
<rect x="626.47" y="43.29" width="12.91" height="5.27" fill="#000080"/>
<rect x="639.38" y="43.29" width="12.90" height="5.27" fill="#48ffc0"/>
<rect x="652.28" y="43.29" width="12.90" height="5.27" fill="#000080"/>
<rect x="665.19" y="43.29" width="12.91" height="5.27" fill="#fff010"/>
<rect x="678.10" y="43.29" width="12.90" height="5.27" fill="#ffc010"/>
<rect x="691.00" y="43.29" width="12.90" height="5.27" fill="#000080"/>
<rect x="420.90" y="48.56" width="12.00" height="5.27" fill="#ff4010"/>
<rect x="432.90" y="48.56" width="12.90" height="5.27" fill="#ff1a10"/>
<rect x="445.80" y="48.56" width="12.91" height="5.27" fill="#ff4010"/>
<rect x="458.71" y="48.56" width="12.90" height="5.27" fill="#ff1a10"/>
<rect x="471.61" y="48.56" width="12.91" height="5.27" fill="#fff010"/>
<rect x="484.52" y="48.56" width="12.90" height="5.27" fill="#ff1a10"/>
<rect x="497.42" y="48.56" width="12.91" height="5.27" fill="#d0ff30"/>
<rect x="510.33" y="48.56" width="12.91" height="5.27" fill="#ff9410"/>
<rect x="523.24" y="48.56" width="12.90" height="5.27" fill="#48ffc0"/>
<rect x="536.14" y="48.56" width="12.90" height="5.27" fill="#fff010"/>
<rect x="549.04" y="48.56" width="12.90" height="5.27" fill="#000080"/>
<rect x="561.95" y="48.56" width="12.91" height="5.27" fill="#ff6410"/>
<rect x="574.86" y="48.56" width="12.90" height="5.27" fill="#80ff80"/>
<rect x="587.76" y="48.56" width="12.90" height="5.27" fill="#30e8ff"/>
<rect x="600.66" y="48.56" width="12.90" height="5.27" fill="#48ffc0"/>
<rect x="613.57" y="48.56" width="12.90" height="5.27" fill="#ff6410"/>
<rect x="626.47" y="48.56" width="12.91" height="5.27" fill="#000080"/>
<rect x="639.38" y="48.56" width="12.90" height="5.27" fill="#d0ff30"/>
<rect x="652.28" y="48.56" width="12.90" height="5.27" fill="#ffc010"/>
<rect x="665.19" y="48.56" width="12.91" height="5.27" fill="#ff4010"/>
<rect x="678.10" y="48.56" width="12.90" height="5.27" fill="#fff010"/>
<rect x="691.00" y="48.56" width="12.90" height="5.27" fill="#000080"/>
<rect x="420.90" y="53.83" width="12.00" height="5.27" fill="#ff4010"/>
<rect x="432.90" y="53.83" width="12.90" height="5.27" fill="#ff5050"/>
<rect x="445.80" y="53.83" width="12.91" height="5.27" fill="#ffc010"/>
<rect x="458.71" y="53.83" width="12.90" height="5.27" fill="#ff5050"/>
<rect x="471.61" y="53.83" width="12.91" height="5.27" fill="#ff4010"/>
<rect x="484.52" y="53.83" width="12.90" height="5.27" fill="#ffc010"/>
<rect x="497.42" y="53.83" width="12.91" height="5.27" fill="#fff010"/>
<rect x="510.33" y="53.83" width="12.91" height="5.27" fill="#ff3c3c"/>
<rect x="523.24" y="53.83" width="12.90" height="5.27" fill="#fff010"/>
<rect x="536.14" y="53.83" width="12.90" height="5.27" fill="#000080"/>
<rect x="549.04" y="53.83" width="12.90" height="5.27" fill="#ff2a2a"/>
<rect x="561.95" y="53.83" width="12.91" height="5.27" fill="#1090f0"/>
<rect x="574.86" y="53.83" width="12.90" height="5.27" fill="#80ff80"/>
<rect x="587.76" y="53.83" width="12.90" height="5.27" fill="#ff9410"/>
<rect x="600.66" y="53.83" width="12.90" height="5.27" fill="#000080"/>
<rect x="613.57" y="53.83" width="12.90" height="5.27" fill="#000080"/>
<rect x="626.47" y="53.83" width="12.91" height="5.27" fill="#ff9410"/>
<rect x="639.38" y="53.83" width="12.90" height="5.27" fill="#000080"/>
<rect x="652.28" y="53.83" width="12.90" height="5.27" fill="#ff1a10"/>
<rect x="665.19" y="53.83" width="12.91" height="5.27" fill="#ffc010"/>
<rect x="678.10" y="53.83" width="12.90" height="5.27" fill="#ff6410"/>
<rect x="691.00" y="53.83" width="12.90" height="5.27" fill="#ff6410"/>
<rect x="420.90" y="59.10" width="12.00" height="5.27" fill="#ff5050"/>
<rect x="432.90" y="59.10" width="12.90" height="5.27" fill="#ff5050"/>
<rect x="445.80" y="59.10" width="12.91" height="5.27" fill="#fff010"/>
<rect x="458.71" y="59.10" width="12.90" height="5.27" fill="#ff5050"/>
<rect x="471.61" y="59.10" width="12.91" height="5.27" fill="#ff3c3c"/>
<rect x="484.52" y="59.10" width="12.90" height="5.27" fill="#ff3c3c"/>
<rect x="497.42" y="59.10" width="12.91" height="5.27" fill="#80ff80"/>
<rect x="510.33" y="59.10" width="12.91" height="5.27" fill="#ff6410"/>
<rect x="523.24" y="59.10" width="12.90" height="5.27" fill="#30e8ff"/>
<rect x="536.14" y="59.10" width="12.90" height="5.27" fill="#ff6410"/>
<rect x="549.04" y="59.10" width="12.90" height="5.27" fill="#ff1a10"/>
<rect x="561.95" y="59.10" width="12.91" height="5.27" fill="#fff010"/>
<rect x="574.86" y="59.10" width="12.90" height="5.27" fill="#ff6410"/>
<rect x="587.76" y="59.10" width="12.90" height="5.27" fill="#ff2a2a"/>
<rect x="600.66" y="59.10" width="12.90" height="5.27" fill="#ff2a2a"/>
<rect x="613.57" y="59.10" width="12.90" height="5.27" fill="#ff1a10"/>
<rect x="626.47" y="59.10" width="12.91" height="5.27" fill="#80ff80"/>
<rect x="639.38" y="59.10" width="12.90" height="5.27" fill="#ffc010"/>
<rect x="652.28" y="59.10" width="12.90" height="5.27" fill="#fff010"/>
<rect x="665.19" y="59.10" width="12.91" height="5.27" fill="#ff3c3c"/>
<rect x="678.10" y="59.10" width="12.90" height="5.27" fill="#ff1a10"/>
<rect x="691.00" y="59.10" width="12.90" height="5.27" fill="#ff1a10"/>
<rect x="420.90" y="64.37" width="12.00" height="5.27" fill="#ff5050"/>
<rect x="432.90" y="64.37" width="12.90" height="5.27" fill="#ff1a10"/>
<rect x="445.80" y="64.37" width="12.91" height="5.27" fill="#ff1a10"/>
<rect x="458.71" y="64.37" width="12.90" height="5.27" fill="#ff3c3c"/>
<rect x="471.61" y="64.37" width="12.91" height="5.27" fill="#ff5050"/>
<rect x="484.52" y="64.37" width="12.90" height="5.27" fill="#ff6410"/>
<rect x="497.42" y="64.37" width="12.91" height="5.27" fill="#ff1a10"/>
<rect x="510.33" y="64.37" width="12.91" height="5.27" fill="#ffc010"/>
<rect x="523.24" y="64.37" width="12.90" height="5.27" fill="#48ffc0"/>
<rect x="536.14" y="64.37" width="12.90" height="5.27" fill="#d0ff30"/>
<rect x="549.04" y="64.37" width="12.90" height="5.27" fill="#0818c8"/>
<rect x="561.95" y="64.37" width="12.91" height="5.27" fill="#48ffc0"/>
<rect x="574.86" y="64.37" width="12.90" height="5.27" fill="#000080"/>
<rect x="587.76" y="64.37" width="12.90" height="5.27" fill="#d0ff30"/>
<rect x="600.66" y="64.37" width="12.90" height="5.27" fill="#fff010"/>
<rect x="613.57" y="64.37" width="12.90" height="5.27" fill="#ff3c3c"/>
<rect x="626.47" y="64.37" width="12.91" height="5.27" fill="#ffc010"/>
<rect x="639.38" y="64.37" width="12.90" height="5.27" fill="#ff1a10"/>
<rect x="652.28" y="64.37" width="12.90" height="5.27" fill="#ff2a2a"/>
<rect x="665.19" y="64.37" width="12.91" height="5.27" fill="#ff5050"/>
<rect x="678.10" y="64.37" width="12.90" height="5.27" fill="#ff1a10"/>
<rect x="691.00" y="64.37" width="12.90" height="5.27" fill="#ff5050"/>
<rect x="420.90" y="69.64" width="12.00" height="5.27" fill="#ff2a2a"/>
<rect x="432.90" y="69.64" width="12.90" height="5.27" fill="#ff5050"/>
<rect x="445.80" y="69.64" width="12.91" height="5.27" fill="#ffc010"/>
<rect x="458.71" y="69.64" width="12.90" height="5.27" fill="#ff1a10"/>
<rect x="471.61" y="69.64" width="12.91" height="5.27" fill="#ff2a2a"/>
<rect x="484.52" y="69.64" width="12.90" height="5.27" fill="#ff5050"/>
<rect x="497.42" y="69.64" width="12.91" height="5.27" fill="#ff2a2a"/>
<rect x="510.33" y="69.64" width="12.91" height="5.27" fill="#30e8ff"/>
<rect x="523.24" y="69.64" width="12.90" height="5.27" fill="#ff3c3c"/>
<rect x="536.14" y="69.64" width="12.90" height="5.27" fill="#ff1a10"/>
<rect x="549.04" y="69.64" width="12.90" height="5.27" fill="#80ff80"/>
<rect x="561.95" y="69.64" width="12.91" height="5.27" fill="#000080"/>
<rect x="574.86" y="69.64" width="12.90" height="5.27" fill="#1060e0"/>
<rect x="587.76" y="69.64" width="12.90" height="5.27" fill="#d0ff30"/>
<rect x="600.66" y="69.64" width="12.90" height="5.27" fill="#ff3c3c"/>
<rect x="613.57" y="69.64" width="12.90" height="5.27" fill="#ff3c3c"/>
<rect x="626.47" y="69.64" width="12.91" height="5.27" fill="#ffc010"/>
<rect x="639.38" y="69.64" width="12.90" height="5.27" fill="#ff1a10"/>
<rect x="652.28" y="69.64" width="12.90" height="5.27" fill="#ff2a2a"/>
<rect x="665.19" y="69.64" width="12.91" height="5.27" fill="#ffc010"/>
<rect x="678.10" y="69.64" width="12.90" height="5.27" fill="#ff5050"/>
<rect x="691.00" y="69.64" width="12.90" height="5.27" fill="#fff010"/>
<rect x="420.90" y="74.91" width="12.00" height="5.27" fill="#ff5050"/>
<rect x="432.90" y="74.91" width="12.90" height="5.27" fill="#ff3c3c"/>
<rect x="445.80" y="74.91" width="12.91" height="5.27" fill="#ff3c3c"/>
<rect x="458.71" y="74.91" width="12.90" height="5.27" fill="#ff3c3c"/>
<rect x="471.61" y="74.91" width="12.91" height="5.27" fill="#ff2a2a"/>
<rect x="484.52" y="74.91" width="12.90" height="5.27" fill="#ff3c3c"/>
<rect x="497.42" y="74.91" width="12.91" height="5.27" fill="#ff2a2a"/>
<rect x="510.33" y="74.91" width="12.91" height="5.27" fill="#ff1a10"/>
<rect x="523.24" y="74.91" width="12.90" height="5.27" fill="#30e8ff"/>
<rect x="536.14" y="74.91" width="12.90" height="5.27" fill="#ffc010"/>
<rect x="549.04" y="74.91" width="12.90" height="5.27" fill="#d0ff30"/>
<rect x="561.95" y="74.91" width="12.91" height="5.27" fill="#ffc010"/>
<rect x="574.86" y="74.91" width="12.90" height="5.27" fill="#1060e0"/>
<rect x="587.76" y="74.91" width="12.90" height="5.27" fill="#80ff80"/>
<rect x="600.66" y="74.91" width="12.90" height="5.27" fill="#d0ff30"/>
<rect x="613.57" y="74.91" width="12.90" height="5.27" fill="#ff5050"/>
<rect x="626.47" y="74.91" width="12.91" height="5.27" fill="#d0ff30"/>
<rect x="639.38" y="74.91" width="12.90" height="5.27" fill="#ff5050"/>
<rect x="652.28" y="74.91" width="12.90" height="5.27" fill="#ff2a2a"/>
<rect x="665.19" y="74.91" width="12.91" height="5.27" fill="#ff1a10"/>
<rect x="678.10" y="74.91" width="12.90" height="5.27" fill="#ff5050"/>
<rect x="691.00" y="74.91" width="12.90" height="5.27" fill="#ff5050"/>
<rect x="420.90" y="80.18" width="12.00" height="5.27" fill="#ff1a10"/>
<rect x="432.90" y="80.18" width="12.90" height="5.27" fill="#ff2a2a"/>
<rect x="445.80" y="80.18" width="12.91" height="5.27" fill="#ff5050"/>
<rect x="458.71" y="80.18" width="12.90" height="5.27" fill="#ff3c3c"/>
<rect x="471.61" y="80.18" width="12.91" height="5.27" fill="#ff2a2a"/>
<rect x="484.52" y="80.18" width="12.90" height="5.27" fill="#ff5050"/>
<rect x="497.42" y="80.18" width="12.91" height="5.27" fill="#ff3c3c"/>
<rect x="510.33" y="80.18" width="12.91" height="5.27" fill="#ff2a2a"/>
<rect x="523.24" y="80.18" width="12.90" height="5.27" fill="#ff1a10"/>
<rect x="536.14" y="80.18" width="12.90" height="5.27" fill="#ff3c3c"/>
<rect x="549.04" y="80.18" width="12.90" height="5.27" fill="#ff9410"/>
<rect x="561.95" y="80.18" width="12.91" height="5.27" fill="#ff3c3c"/>
<rect x="574.86" y="80.18" width="12.90" height="5.27" fill="#1060e0"/>
<rect x="587.76" y="80.18" width="12.90" height="5.27" fill="#ff3c3c"/>
<rect x="600.66" y="80.18" width="12.90" height="5.27" fill="#a0ff48"/>
<rect x="613.57" y="80.18" width="12.90" height="5.27" fill="#ff5050"/>
<rect x="626.47" y="80.18" width="12.91" height="5.27" fill="#ff2a2a"/>
<rect x="639.38" y="80.18" width="12.90" height="5.27" fill="#ff3c3c"/>
<rect x="652.28" y="80.18" width="12.90" height="5.27" fill="#ff3c3c"/>
<rect x="665.19" y="80.18" width="12.91" height="5.27" fill="#ff1a10"/>
<rect x="678.10" y="80.18" width="12.90" height="5.27" fill="#ff4010"/>
<rect x="691.00" y="80.18" width="12.90" height="5.27" fill="#000080"/>
<rect x="420.90" y="85.45" width="12.00" height="5.27" fill="#ff5050"/>
<rect x="432.90" y="85.45" width="12.90" height="5.27" fill="#ff5050"/>
<rect x="445.80" y="85.45" width="12.91" height="5.27" fill="#ff5050"/>
<rect x="458.71" y="85.45" width="12.90" height="5.27" fill="#ff3c3c"/>
<rect x="471.61" y="85.45" width="12.91" height="5.27" fill="#ff1a10"/>
<rect x="484.52" y="85.45" width="12.90" height="5.27" fill="#ff3c3c"/>
<rect x="497.42" y="85.45" width="12.91" height="5.27" fill="#ff2a2a"/>
<rect x="510.33" y="85.45" width="12.91" height="5.27" fill="#ff2a2a"/>
<rect x="523.24" y="85.45" width="12.90" height="5.27" fill="#fff010"/>
<rect x="536.14" y="85.45" width="12.90" height="5.27" fill="#ff1a10"/>
<rect x="549.04" y="85.45" width="12.90" height="5.27" fill="#ff1a10"/>
<rect x="561.95" y="85.45" width="12.91" height="5.27" fill="#000080"/>
<rect x="574.86" y="85.45" width="12.90" height="5.27" fill="#fff010"/>
<rect x="587.76" y="85.45" width="12.90" height="5.27" fill="#ff1a10"/>
<rect x="600.66" y="85.45" width="12.90" height="5.27" fill="#ff3c3c"/>
<rect x="613.57" y="85.45" width="12.90" height="5.27" fill="#ff3c3c"/>
<rect x="626.47" y="85.45" width="12.91" height="5.27" fill="#ff5050"/>
<rect x="639.38" y="85.45" width="12.90" height="5.27" fill="#ff4010"/>
<rect x="652.28" y="85.45" width="12.90" height="5.27" fill="#ff2a2a"/>
<rect x="665.19" y="85.45" width="12.91" height="5.27" fill="#ff2a2a"/>
<rect x="678.10" y="85.45" width="12.90" height="5.27" fill="#d0ff30"/>
<rect x="691.00" y="85.45" width="12.90" height="5.27" fill="#48ffc0"/>
<rect x="420.90" y="90.72" width="12.00" height="5.27" fill="#ff5050"/>
<rect x="432.90" y="90.72" width="12.90" height="5.27" fill="#ff5050"/>
<rect x="445.80" y="90.72" width="12.91" height="5.27" fill="#ff6410"/>
<rect x="458.71" y="90.72" width="12.90" height="5.27" fill="#ff3c3c"/>
<rect x="471.61" y="90.72" width="12.91" height="5.27" fill="#ff1a10"/>
<rect x="484.52" y="90.72" width="12.90" height="5.27" fill="#ff3c3c"/>
<rect x="497.42" y="90.72" width="12.91" height="5.27" fill="#ff2a2a"/>
<rect x="510.33" y="90.72" width="12.91" height="5.27" fill="#ffc010"/>
<rect x="523.24" y="90.72" width="12.90" height="5.27" fill="#ff1a10"/>
<rect x="536.14" y="90.72" width="12.90" height="5.27" fill="#80ff80"/>
<rect x="549.04" y="90.72" width="12.90" height="5.27" fill="#d0ff30"/>
<rect x="561.95" y="90.72" width="12.91" height="5.27" fill="#000080"/>
<rect x="574.86" y="90.72" width="12.90" height="5.27" fill="#ffc010"/>
<rect x="587.76" y="90.72" width="12.90" height="5.27" fill="#ff9410"/>
<rect x="600.66" y="90.72" width="12.90" height="5.27" fill="#ff3c3c"/>
<rect x="613.57" y="90.72" width="12.90" height="5.27" fill="#ff3c3c"/>
<rect x="626.47" y="90.72" width="12.91" height="5.27" fill="#ff2a2a"/>
<rect x="639.38" y="90.72" width="12.90" height="5.27" fill="#ff2a2a"/>
<rect x="652.28" y="90.72" width="12.90" height="5.27" fill="#ff1a10"/>
<rect x="665.19" y="90.72" width="12.91" height="5.27" fill="#ff5050"/>
<rect x="678.10" y="90.72" width="12.90" height="5.27" fill="#ff5050"/>
<rect x="691.00" y="90.72" width="12.90" height="5.27" fill="#ff5050"/>
<rect x="420.90" y="95.99" width="12.00" height="5.27" fill="#ff3c3c"/>
<rect x="432.90" y="95.99" width="12.90" height="5.27" fill="#000080"/>
<rect x="445.80" y="95.99" width="12.91" height="5.27" fill="#ff3c3c"/>
<rect x="458.71" y="95.99" width="12.90" height="5.27" fill="#ff4010"/>
<rect x="471.61" y="95.99" width="12.91" height="5.27" fill="#fff010"/>
<rect x="484.52" y="95.99" width="12.90" height="5.27" fill="#ff9410"/>
<rect x="497.42" y="95.99" width="12.91" height="5.27" fill="#1090f0"/>
<rect x="510.33" y="95.99" width="12.91" height="5.27" fill="#ff9410"/>
<rect x="523.24" y="95.99" width="12.90" height="5.27" fill="#000080"/>
<rect x="536.14" y="95.99" width="12.90" height="5.27" fill="#000080"/>
<rect x="549.04" y="95.99" width="12.90" height="5.27" fill="#000080"/>
<rect x="561.95" y="95.99" width="12.91" height="5.27" fill="#80ff80"/>
<rect x="574.86" y="95.99" width="12.90" height="5.27" fill="#ffc010"/>
<rect x="587.76" y="95.99" width="12.90" height="5.27" fill="#fff010"/>
<rect x="600.66" y="95.99" width="12.90" height="5.27" fill="#000080"/>
<rect x="613.57" y="95.99" width="12.90" height="5.27" fill="#ff1a10"/>
<rect x="626.47" y="95.99" width="12.91" height="5.27" fill="#ff2a2a"/>
<rect x="639.38" y="95.99" width="12.90" height="5.27" fill="#ff2a2a"/>
<rect x="652.28" y="95.99" width="12.90" height="5.27" fill="#d0ff30"/>
<rect x="665.19" y="95.99" width="12.91" height="5.27" fill="#ff3c3c"/>
<rect x="678.10" y="95.99" width="12.90" height="5.27" fill="#ff3c3c"/>
<rect x="691.00" y="95.99" width="12.90" height="5.27" fill="#ff5050"/>
<rect x="420.90" y="101.26" width="12.00" height="5.27" fill="#ff4010"/>
<rect x="432.90" y="101.26" width="12.90" height="5.27" fill="#ff9410"/>
<rect x="445.80" y="101.26" width="12.91" height="5.27" fill="#ff1a10"/>
<rect x="458.71" y="101.26" width="12.90" height="5.27" fill="#ff1a10"/>
<rect x="471.61" y="101.26" width="12.91" height="5.27" fill="#ffc010"/>
<rect x="484.52" y="101.26" width="12.90" height="5.27" fill="#ff6410"/>
<rect x="497.42" y="101.26" width="12.91" height="5.27" fill="#ff4010"/>
<rect x="510.33" y="101.26" width="12.91" height="5.27" fill="#ff9410"/>
<rect x="523.24" y="101.26" width="12.90" height="5.27" fill="#000080"/>
<rect x="536.14" y="101.26" width="12.90" height="5.27" fill="#000080"/>
<rect x="549.04" y="101.26" width="12.90" height="5.27" fill="#fff010"/>
<rect x="561.95" y="101.26" width="12.91" height="5.27" fill="#000080"/>
<rect x="574.86" y="101.26" width="12.90" height="5.27" fill="#fff010"/>
<rect x="587.76" y="101.26" width="12.90" height="5.27" fill="#80ff80"/>
<rect x="600.66" y="101.26" width="12.90" height="5.27" fill="#0818c8"/>
<rect x="613.57" y="101.26" width="12.90" height="5.27" fill="#000080"/>
<rect x="626.47" y="101.26" width="12.91" height="5.27" fill="#80ff80"/>
<rect x="639.38" y="101.26" width="12.90" height="5.27" fill="#000080"/>
<rect x="652.28" y="101.26" width="12.90" height="5.27" fill="#ff1a10"/>
<rect x="665.19" y="101.26" width="12.91" height="5.27" fill="#ff4010"/>
<rect x="678.10" y="101.26" width="12.90" height="5.27" fill="#000080"/>
<rect x="691.00" y="101.26" width="12.90" height="5.27" fill="#ff6410"/>
<rect x="420.90" y="106.53" width="12.00" height="5.27" fill="#ff2a2a"/>
<rect x="432.90" y="106.53" width="12.90" height="5.27" fill="#ff2a2a"/>
<rect x="445.80" y="106.53" width="12.91" height="5.27" fill="#ff1a10"/>
<rect x="458.71" y="106.53" width="12.90" height="5.27" fill="#ff1a10"/>
<rect x="471.61" y="106.53" width="12.91" height="5.27" fill="#d0ff30"/>
<rect x="484.52" y="106.53" width="12.90" height="5.27" fill="#ff1a10"/>
<rect x="497.42" y="106.53" width="12.91" height="5.27" fill="#ff4010"/>
<rect x="510.33" y="106.53" width="12.91" height="5.27" fill="#0818c8"/>
<rect x="523.24" y="106.53" width="12.90" height="5.27" fill="#ff9410"/>
<rect x="536.14" y="106.53" width="12.90" height="5.27" fill="#80ff80"/>
<rect x="549.04" y="106.53" width="12.90" height="5.27" fill="#fff010"/>
<rect x="561.95" y="106.53" width="12.91" height="5.27" fill="#000080"/>
<rect x="574.86" y="106.53" width="12.90" height="5.27" fill="#000080"/>
<rect x="587.76" y="106.53" width="12.90" height="5.27" fill="#fff010"/>
<rect x="600.66" y="106.53" width="12.90" height="5.27" fill="#fff010"/>
<rect x="613.57" y="106.53" width="12.90" height="5.27" fill="#ff9410"/>
<rect x="626.47" y="106.53" width="12.91" height="5.27" fill="#ff4010"/>
<rect x="639.38" y="106.53" width="12.90" height="5.27" fill="#ff4010"/>
<rect x="652.28" y="106.53" width="12.90" height="5.27" fill="#ff3c3c"/>
<rect x="665.19" y="106.53" width="12.91" height="5.27" fill="#ff1a10"/>
<rect x="678.10" y="106.53" width="12.90" height="5.27" fill="#d0ff30"/>
<rect x="691.00" y="106.53" width="12.90" height="5.27" fill="#000080"/>
<rect x="420.90" y="111.80" width="12.00" height="5.27" fill="#ff5050"/>
<rect x="432.90" y="111.80" width="12.90" height="5.27" fill="#ff5050"/>
<rect x="445.80" y="111.80" width="12.91" height="5.27" fill="#ff5050"/>
<rect x="458.71" y="111.80" width="12.90" height="5.27" fill="#ff5050"/>
<rect x="471.61" y="111.80" width="12.91" height="5.27" fill="#ff3c3c"/>
<rect x="484.52" y="111.80" width="12.90" height="5.27" fill="#ff1a10"/>
<rect x="497.42" y="111.80" width="12.91" height="5.27" fill="#ff3c3c"/>
<rect x="510.33" y="111.80" width="12.91" height="5.27" fill="#ff1a10"/>
<rect x="523.24" y="111.80" width="12.90" height="5.27" fill="#ff4010"/>
<rect x="536.14" y="111.80" width="12.90" height="5.27" fill="#d0ff30"/>
<rect x="549.04" y="111.80" width="12.90" height="5.27" fill="#000080"/>
<rect x="561.95" y="111.80" width="12.91" height="5.27" fill="#ffc010"/>
<rect x="574.86" y="111.80" width="12.90" height="5.27" fill="#ff6410"/>
<rect x="587.76" y="111.80" width="12.90" height="5.27" fill="#000080"/>
<rect x="600.66" y="111.80" width="12.90" height="5.27" fill="#ff9410"/>
<rect x="613.57" y="111.80" width="12.90" height="5.27" fill="#ff6410"/>
<rect x="626.47" y="111.80" width="12.91" height="5.27" fill="#48ffc0"/>
<rect x="639.38" y="111.80" width="12.90" height="5.27" fill="#ff4010"/>
<rect x="652.28" y="111.80" width="12.90" height="5.27" fill="#ff5050"/>
<rect x="665.19" y="111.80" width="12.91" height="5.27" fill="#ff5050"/>
<rect x="678.10" y="111.80" width="12.90" height="5.27" fill="#ff5050"/>
<rect x="691.00" y="111.80" width="12.90" height="5.27" fill="#ff5050"/>
<rect x="420.90" y="117.07" width="12.00" height="5.27" fill="#ff5050"/>
<rect x="432.90" y="117.07" width="12.90" height="5.27" fill="#ff5050"/>
<rect x="445.80" y="117.07" width="12.91" height="5.27" fill="#ff5050"/>
<rect x="458.71" y="117.07" width="12.90" height="5.27" fill="#ff5050"/>
<rect x="471.61" y="117.07" width="12.91" height="5.27" fill="#ff1a10"/>
<rect x="484.52" y="117.07" width="12.90" height="5.27" fill="#0818c8"/>
<rect x="497.42" y="117.07" width="12.91" height="5.27" fill="#ff1a10"/>
<rect x="510.33" y="117.07" width="12.91" height="5.27" fill="#ff4010"/>
<rect x="523.24" y="117.07" width="12.90" height="5.27" fill="#d0ff30"/>
<rect x="536.14" y="117.07" width="12.90" height="5.27" fill="#ff4010"/>
<rect x="549.04" y="117.07" width="12.90" height="5.27" fill="#ff6410"/>
<rect x="561.95" y="117.07" width="12.91" height="5.27" fill="#000080"/>
<rect x="574.86" y="117.07" width="12.90" height="5.27" fill="#d0ff30"/>
<rect x="587.76" y="117.07" width="12.90" height="5.27" fill="#ff6410"/>
<rect x="600.66" y="117.07" width="12.90" height="5.27" fill="#ff3c3c"/>
<rect x="613.57" y="117.07" width="12.90" height="5.27" fill="#ff3c3c"/>
<rect x="626.47" y="117.07" width="12.91" height="5.27" fill="#ff6410"/>
<rect x="639.38" y="117.07" width="12.90" height="5.27" fill="#ff1a10"/>
<rect x="652.28" y="117.07" width="12.90" height="5.27" fill="#ff5050"/>
<rect x="665.19" y="117.07" width="12.91" height="5.27" fill="#ff1a10"/>
<rect x="678.10" y="117.07" width="12.90" height="5.27" fill="#ff1a10"/>
<rect x="691.00" y="117.07" width="12.90" height="5.27" fill="#ff5050"/>
<rect x="420.90" y="122.34" width="12.00" height="5.27" fill="#ff5050"/>
<rect x="432.90" y="122.34" width="12.90" height="5.27" fill="#ff2a2a"/>
<rect x="445.80" y="122.34" width="12.91" height="5.27" fill="#ff3c3c"/>
<rect x="458.71" y="122.34" width="12.90" height="5.27" fill="#ff3c3c"/>
<rect x="471.61" y="122.34" width="12.91" height="5.27" fill="#ff3c3c"/>
<rect x="484.52" y="122.34" width="12.90" height="5.27" fill="#ff3c3c"/>
<rect x="497.42" y="122.34" width="12.91" height="5.27" fill="#ff1a10"/>
<rect x="510.33" y="122.34" width="12.91" height="5.27" fill="#ff1a10"/>
<rect x="523.24" y="122.34" width="12.90" height="5.27" fill="#30e8ff"/>
<rect x="536.14" y="122.34" width="12.90" height="5.27" fill="#30e8ff"/>
<rect x="549.04" y="122.34" width="12.90" height="5.27" fill="#1090f0"/>
<rect x="561.95" y="122.34" width="12.91" height="5.27" fill="#000080"/>
<rect x="574.86" y="122.34" width="12.90" height="5.27" fill="#0818c8"/>
<rect x="587.76" y="122.34" width="12.90" height="5.27" fill="#d0ff30"/>
<rect x="600.66" y="122.34" width="12.90" height="5.27" fill="#ff4010"/>
<rect x="613.57" y="122.34" width="12.90" height="5.27" fill="#fff010"/>
<rect x="626.47" y="122.34" width="12.91" height="5.27" fill="#ff1a10"/>
<rect x="639.38" y="122.34" width="12.90" height="5.27" fill="#ffc010"/>
<rect x="652.28" y="122.34" width="12.90" height="5.27" fill="#ff3c3c"/>
<rect x="665.19" y="122.34" width="12.91" height="5.27" fill="#ff3c3c"/>
<rect x="678.10" y="122.34" width="12.90" height="5.27" fill="#ff5050"/>
<rect x="691.00" y="122.34" width="12.90" height="5.27" fill="#ff3c3c"/>
<rect x="420.90" y="127.61" width="12.00" height="5.27" fill="#fff010"/>
<rect x="432.90" y="127.61" width="12.90" height="5.27" fill="#ff3c3c"/>
<rect x="445.80" y="127.61" width="12.91" height="5.27" fill="#ff6410"/>
<rect x="458.71" y="127.61" width="12.90" height="5.27" fill="#ff2a2a"/>
<rect x="471.61" y="127.61" width="12.91" height="5.27" fill="#ff5050"/>
<rect x="484.52" y="127.61" width="12.90" height="5.27" fill="#ff3c3c"/>
<rect x="497.42" y="127.61" width="12.91" height="5.27" fill="#ff3c3c"/>
<rect x="510.33" y="127.61" width="12.91" height="5.27" fill="#a0ff48"/>
<rect x="523.24" y="127.61" width="12.90" height="5.27" fill="#000080"/>
<rect x="536.14" y="127.61" width="12.90" height="5.27" fill="#1060e0"/>
<rect x="549.04" y="127.61" width="12.90" height="5.27" fill="#fff010"/>
<rect x="561.95" y="127.61" width="12.91" height="5.27" fill="#ffc010"/>
<rect x="574.86" y="127.61" width="12.90" height="5.27" fill="#fff010"/>
<rect x="587.76" y="127.61" width="12.90" height="5.27" fill="#ff9410"/>
<rect x="600.66" y="127.61" width="12.90" height="5.27" fill="#ff3c3c"/>
<rect x="613.57" y="127.61" width="12.90" height="5.27" fill="#ff6410"/>
<rect x="626.47" y="127.61" width="12.91" height="5.27" fill="#ff6410"/>
<rect x="639.38" y="127.61" width="12.90" height="5.27" fill="#ff2a2a"/>
<rect x="652.28" y="127.61" width="12.90" height="5.27" fill="#ff1a10"/>
<rect x="665.19" y="127.61" width="12.91" height="5.27" fill="#ff3c3c"/>
<rect x="678.10" y="127.61" width="12.90" height="5.27" fill="#000080"/>
<rect x="691.00" y="127.61" width="12.90" height="5.27" fill="#ff5050"/>
<rect x="420.90" y="132.88" width="12.00" height="5.27" fill="#ff3c3c"/>
<rect x="432.90" y="132.88" width="12.90" height="5.27" fill="#ff2a2a"/>
<rect x="445.80" y="132.88" width="12.91" height="5.27" fill="#ff3c3c"/>
<rect x="458.71" y="132.88" width="12.90" height="5.27" fill="#ff5050"/>
<rect x="471.61" y="132.88" width="12.91" height="5.27" fill="#ff5050"/>
<rect x="484.52" y="132.88" width="12.90" height="5.27" fill="#ff3c3c"/>
<rect x="497.42" y="132.88" width="12.91" height="5.27" fill="#ff3c3c"/>
<rect x="510.33" y="132.88" width="12.91" height="5.27" fill="#d0ff30"/>
<rect x="523.24" y="132.88" width="12.90" height="5.27" fill="#30e8ff"/>
<rect x="536.14" y="132.88" width="12.90" height="5.27" fill="#ff9410"/>
<rect x="549.04" y="132.88" width="12.90" height="5.27" fill="#000080"/>
<rect x="561.95" y="132.88" width="12.91" height="5.27" fill="#ff6410"/>
<rect x="574.86" y="132.88" width="12.90" height="5.27" fill="#000080"/>
<rect x="587.76" y="132.88" width="12.90" height="5.27" fill="#000080"/>
<rect x="600.66" y="132.88" width="12.90" height="5.27" fill="#ffc010"/>
<rect x="613.57" y="132.88" width="12.90" height="5.27" fill="#ff2a2a"/>
<rect x="626.47" y="132.88" width="12.91" height="5.27" fill="#ff1a10"/>
<rect x="639.38" y="132.88" width="12.90" height="5.27" fill="#ff2a2a"/>
<rect x="652.28" y="132.88" width="12.90" height="5.27" fill="#ff1a10"/>
<rect x="665.19" y="132.88" width="12.91" height="5.27" fill="#ff5050"/>
<rect x="678.10" y="132.88" width="12.90" height="5.27" fill="#ff4010"/>
<rect x="691.00" y="132.88" width="12.90" height="5.27" fill="#000080"/>
<rect x="420.90" y="138.15" width="12.00" height="5.27" fill="#30e8ff"/>
<rect x="432.90" y="138.15" width="12.90" height="5.27" fill="#ff5050"/>
<rect x="445.80" y="138.15" width="12.91" height="5.27" fill="#ff5050"/>
<rect x="458.71" y="138.15" width="12.90" height="5.27" fill="#ff5050"/>
<rect x="471.61" y="138.15" width="12.91" height="5.27" fill="#ff1a10"/>
<rect x="484.52" y="138.15" width="12.90" height="5.27" fill="#ffc010"/>
<rect x="497.42" y="138.15" width="12.91" height="5.27" fill="#ff1a10"/>
<rect x="510.33" y="138.15" width="12.91" height="5.27" fill="#ff1a10"/>
<rect x="523.24" y="138.15" width="12.90" height="5.27" fill="#0818c8"/>
<rect x="536.14" y="138.15" width="12.90" height="5.27" fill="#ff9410"/>
<rect x="549.04" y="138.15" width="12.90" height="5.27" fill="#ff6410"/>
<rect x="561.95" y="138.15" width="12.91" height="5.27" fill="#ff1a10"/>
<rect x="574.86" y="138.15" width="12.90" height="5.27" fill="#ff2a2a"/>
<rect x="587.76" y="138.15" width="12.90" height="5.27" fill="#ff4010"/>
<rect x="600.66" y="138.15" width="12.90" height="5.27" fill="#ff1a10"/>
<rect x="613.57" y="138.15" width="12.90" height="5.27" fill="#ff1a10"/>
<rect x="626.47" y="138.15" width="12.91" height="5.27" fill="#ff6410"/>
<rect x="639.38" y="138.15" width="12.90" height="5.27" fill="#ff3c3c"/>
<rect x="652.28" y="138.15" width="12.90" height="5.27" fill="#ff2a2a"/>
<rect x="665.19" y="138.15" width="12.91" height="5.27" fill="#ff1a10"/>
<rect x="678.10" y="138.15" width="12.90" height="5.27" fill="#ff2a2a"/>
<rect x="691.00" y="138.15" width="12.90" height="5.27" fill="#ff5050"/>
<rect x="420.90" y="143.42" width="12.00" height="5.27" fill="#ff9410"/>
<rect x="432.90" y="143.42" width="12.90" height="5.27" fill="#ff2a2a"/>
<rect x="445.80" y="143.42" width="12.91" height="5.27" fill="#fff010"/>
<rect x="458.71" y="143.42" width="12.90" height="5.27" fill="#ff5050"/>
<rect x="471.61" y="143.42" width="12.91" height="5.27" fill="#ff6410"/>
<rect x="484.52" y="143.42" width="12.90" height="5.27" fill="#ff5050"/>
<rect x="497.42" y="143.42" width="12.91" height="5.27" fill="#ff1a10"/>
<rect x="510.33" y="143.42" width="12.91" height="5.27" fill="#ff1a10"/>
<rect x="523.24" y="143.42" width="12.90" height="5.27" fill="#0818c8"/>
<rect x="536.14" y="143.42" width="12.90" height="5.27" fill="#30e8ff"/>
<rect x="549.04" y="143.42" width="12.90" height="5.27" fill="#000080"/>
<rect x="561.95" y="143.42" width="12.91" height="5.27" fill="#ff1a10"/>
<rect x="574.86" y="143.42" width="12.90" height="5.27" fill="#ff2a2a"/>
<rect x="587.76" y="143.42" width="12.90" height="5.27" fill="#ffc010"/>
<rect x="600.66" y="143.42" width="12.90" height="5.27" fill="#ff9410"/>
<rect x="613.57" y="143.42" width="12.90" height="5.27" fill="#fff010"/>
<rect x="626.47" y="143.42" width="12.91" height="5.27" fill="#ff2a2a"/>
<rect x="639.38" y="143.42" width="12.90" height="5.27" fill="#ffc010"/>
<rect x="652.28" y="143.42" width="12.90" height="5.27" fill="#ff2a2a"/>
<rect x="665.19" y="143.42" width="12.91" height="5.27" fill="#ff1a10"/>
<rect x="678.10" y="143.42" width="12.90" height="5.27" fill="#ff2a2a"/>
<rect x="691.00" y="143.42" width="12.90" height="5.27" fill="#ff3c3c"/>
<rect x="420.90" y="148.69" width="12.00" height="5.27" fill="#ff9410"/>
<rect x="432.90" y="148.69" width="12.90" height="5.27" fill="#0818c8"/>
<rect x="445.80" y="148.69" width="12.91" height="5.27" fill="#ff1a10"/>
<rect x="458.71" y="148.69" width="12.90" height="5.27" fill="#ff1a10"/>
<rect x="471.61" y="148.69" width="12.91" height="5.27" fill="#ff4010"/>
<rect x="484.52" y="148.69" width="12.90" height="5.27" fill="#d0ff30"/>
<rect x="497.42" y="148.69" width="12.91" height="5.27" fill="#ff3c3c"/>
<rect x="510.33" y="148.69" width="12.91" height="5.27" fill="#ff1a10"/>
<rect x="523.24" y="148.69" width="12.90" height="5.27" fill="#30e8ff"/>
<rect x="536.14" y="148.69" width="12.90" height="5.27" fill="#000080"/>
<rect x="549.04" y="148.69" width="12.90" height="5.27" fill="#ff1a10"/>
<rect x="561.95" y="148.69" width="12.91" height="5.27" fill="#48ffc0"/>
<rect x="574.86" y="148.69" width="12.90" height="5.27" fill="#30e8ff"/>
<rect x="587.76" y="148.69" width="12.90" height="5.27" fill="#000080"/>
<rect x="600.66" y="148.69" width="12.90" height="5.27" fill="#ff6410"/>
<rect x="613.57" y="148.69" width="12.90" height="5.27" fill="#fff010"/>
<rect x="626.47" y="148.69" width="12.91" height="5.27" fill="#ffc010"/>
<rect x="639.38" y="148.69" width="12.90" height="5.27" fill="#1090f0"/>
<rect x="652.28" y="148.69" width="12.90" height="5.27" fill="#fff010"/>
<rect x="665.19" y="148.69" width="12.91" height="5.27" fill="#fff010"/>
<rect x="678.10" y="148.69" width="12.90" height="5.27" fill="#ff6410"/>
<rect x="691.00" y="148.69" width="12.90" height="5.27" fill="#ffc010"/>
<rect x="420.90" y="153.96" width="12.00" height="5.27" fill="#ff4010"/>
<rect x="432.90" y="153.96" width="12.90" height="5.27" fill="#ffc010"/>
<rect x="445.80" y="153.96" width="12.91" height="5.27" fill="#ff1a10"/>
<rect x="458.71" y="153.96" width="12.90" height="5.27" fill="#ff6410"/>
<rect x="471.61" y="153.96" width="12.91" height="5.27" fill="#ff4010"/>
<rect x="484.52" y="153.96" width="12.90" height="5.27" fill="#48ffc0"/>
<rect x="497.42" y="153.96" width="12.91" height="5.27" fill="#d0ff30"/>
<rect x="510.33" y="153.96" width="12.91" height="5.27" fill="#ff1a10"/>
<rect x="523.24" y="153.96" width="12.90" height="5.27" fill="#30e8ff"/>
<rect x="536.14" y="153.96" width="12.90" height="5.27" fill="#000080"/>
<rect x="549.04" y="153.96" width="12.90" height="5.27" fill="#30e8ff"/>
<rect x="561.95" y="153.96" width="12.91" height="5.27" fill="#30e8ff"/>
<rect x="574.86" y="153.96" width="12.90" height="5.27" fill="#fff010"/>
<rect x="587.76" y="153.96" width="12.90" height="5.27" fill="#ff1a10"/>
<rect x="600.66" y="153.96" width="12.90" height="5.27" fill="#fff010"/>
<rect x="613.57" y="153.96" width="12.90" height="5.27" fill="#48ffc0"/>
<rect x="626.47" y="153.96" width="12.91" height="5.27" fill="#d0ff30"/>
<rect x="639.38" y="153.96" width="12.90" height="5.27" fill="#a0ff48"/>
<rect x="652.28" y="153.96" width="12.90" height="5.27" fill="#ffc010"/>
<rect x="665.19" y="153.96" width="12.91" height="5.27" fill="#ff4010"/>
<rect x="678.10" y="153.96" width="12.90" height="5.27" fill="#000080"/>
<rect x="691.00" y="153.96" width="12.90" height="5.27" fill="#fff010"/>
<rect x="420.90" y="159.23" width="12.00" height="5.27" fill="#48ffc0"/>
<rect x="432.90" y="159.23" width="12.90" height="5.27" fill="#ff9410"/>
<rect x="445.80" y="159.23" width="12.91" height="5.27" fill="#1060e0"/>
<rect x="458.71" y="159.23" width="12.90" height="5.27" fill="#000080"/>
<rect x="471.61" y="159.23" width="12.91" height="5.27" fill="#ff4010"/>
<rect x="484.52" y="159.23" width="12.90" height="5.27" fill="#ffc010"/>
<rect x="497.42" y="159.23" width="12.91" height="5.27" fill="#ff1a10"/>
<rect x="510.33" y="159.23" width="12.91" height="5.27" fill="#ff3c3c"/>
<rect x="523.24" y="159.23" width="12.90" height="5.27" fill="#48ffc0"/>
<rect x="536.14" y="159.23" width="12.90" height="5.27" fill="#fff010"/>
<rect x="549.04" y="159.23" width="12.90" height="5.27" fill="#000080"/>
<rect x="561.95" y="159.23" width="12.91" height="5.27" fill="#000080"/>
<rect x="574.86" y="159.23" width="12.90" height="5.27" fill="#30e8ff"/>
<rect x="587.76" y="159.23" width="12.90" height="5.27" fill="#d0ff30"/>
<rect x="600.66" y="159.23" width="12.90" height="5.27" fill="#fff010"/>
<rect x="613.57" y="159.23" width="12.90" height="5.27" fill="#0818c8"/>
<rect x="626.47" y="159.23" width="12.91" height="5.27" fill="#80ff80"/>
<rect x="639.38" y="159.23" width="12.90" height="5.27" fill="#d0ff30"/>
<rect x="652.28" y="159.23" width="12.90" height="5.27" fill="#d0ff30"/>
<rect x="665.19" y="159.23" width="12.91" height="5.27" fill="#0818c8"/>
<rect x="678.10" y="159.23" width="12.90" height="5.27" fill="#d0ff30"/>
<rect x="691.00" y="159.23" width="12.90" height="5.27" fill="#ff1a10"/>
<rect x="420.90" y="164.50" width="12.00" height="5.27" fill="#ff5050"/>
<rect x="432.90" y="164.50" width="12.90" height="5.27" fill="#ff2a2a"/>
<rect x="445.80" y="164.50" width="12.91" height="5.27" fill="#ff2a2a"/>
<rect x="458.71" y="164.50" width="12.90" height="5.27" fill="#ff9410"/>
<rect x="471.61" y="164.50" width="12.91" height="5.27" fill="#ff1a10"/>
<rect x="484.52" y="164.50" width="12.90" height="5.27" fill="#d0ff30"/>
<rect x="497.42" y="164.50" width="12.91" height="5.27" fill="#ff1a10"/>
<rect x="510.33" y="164.50" width="12.91" height="5.27" fill="#80ff80"/>
<rect x="523.24" y="164.50" width="12.90" height="5.27" fill="#80ff80"/>
<rect x="536.14" y="164.50" width="12.90" height="5.27" fill="#fff010"/>
<rect x="549.04" y="164.50" width="12.90" height="5.27" fill="#ff2a2a"/>
<rect x="561.95" y="164.50" width="12.91" height="5.27" fill="#1090f0"/>
<rect x="574.86" y="164.50" width="12.90" height="5.27" fill="#1090f0"/>
<rect x="587.76" y="164.50" width="12.90" height="5.27" fill="#30e8ff"/>
<rect x="600.66" y="164.50" width="12.90" height="5.27" fill="#ff6410"/>
<rect x="613.57" y="164.50" width="12.90" height="5.27" fill="#ff6410"/>
<rect x="626.47" y="164.50" width="12.91" height="5.27" fill="#000080"/>
<rect x="639.38" y="164.50" width="12.90" height="5.27" fill="#d0ff30"/>
<rect x="652.28" y="164.50" width="12.90" height="5.27" fill="#ffc010"/>
<rect x="665.19" y="164.50" width="12.91" height="5.27" fill="#ff1a10"/>
<rect x="678.10" y="164.50" width="12.90" height="5.27" fill="#000080"/>
<rect x="691.00" y="164.50" width="12.90" height="5.27" fill="#ff1a10"/>
<rect x="420.90" y="169.77" width="12.00" height="5.27" fill="#ff3c3c"/>
<rect x="432.90" y="169.77" width="12.90" height="5.27" fill="#000080"/>
<rect x="445.80" y="169.77" width="12.91" height="5.27" fill="#ff2a2a"/>
<rect x="458.71" y="169.77" width="12.90" height="5.27" fill="#ff4010"/>
<rect x="471.61" y="169.77" width="12.91" height="5.27" fill="#fff010"/>
<rect x="484.52" y="169.77" width="12.90" height="5.27" fill="#ff3c3c"/>
<rect x="497.42" y="169.77" width="12.91" height="5.27" fill="#d0ff30"/>
<rect x="510.33" y="169.77" width="12.91" height="5.27" fill="#ffc010"/>
<rect x="523.24" y="169.77" width="12.90" height="5.27" fill="#d0ff30"/>
<rect x="536.14" y="169.77" width="12.90" height="5.27" fill="#1090f0"/>
<rect x="549.04" y="169.77" width="12.90" height="5.27" fill="#ff6410"/>
<rect x="561.95" y="169.77" width="12.91" height="5.27" fill="#30e8ff"/>
<rect x="574.86" y="169.77" width="12.90" height="5.27" fill="#ffc010"/>
<rect x="587.76" y="169.77" width="12.90" height="5.27" fill="#ff4010"/>
<rect x="600.66" y="169.77" width="12.90" height="5.27" fill="#30e8ff"/>
<rect x="613.57" y="169.77" width="12.90" height="5.27" fill="#ff2a2a"/>
<rect x="626.47" y="169.77" width="12.91" height="5.27" fill="#ff2a2a"/>
<rect x="639.38" y="169.77" width="12.90" height="5.27" fill="#000080"/>
<rect x="652.28" y="169.77" width="12.90" height="5.27" fill="#ff1a10"/>
<rect x="665.19" y="169.77" width="12.91" height="5.27" fill="#ff1a10"/>
<rect x="678.10" y="169.77" width="12.90" height="5.27" fill="#ff1a10"/>
<rect x="691.00" y="169.77" width="12.90" height="5.27" fill="#a0ff48"/>
<rect x="420.90" y="175.04" width="12.00" height="5.27" fill="#000080"/>
<rect x="432.90" y="175.04" width="12.90" height="5.27" fill="#ff1a10"/>
<rect x="445.80" y="175.04" width="12.91" height="5.27" fill="#000080"/>
<rect x="458.71" y="175.04" width="12.90" height="5.27" fill="#ff5050"/>
<rect x="471.61" y="175.04" width="12.91" height="5.27" fill="#d0ff30"/>
<rect x="484.52" y="175.04" width="12.90" height="5.27" fill="#ff1a10"/>
<rect x="497.42" y="175.04" width="12.91" height="5.27" fill="#ffc010"/>
<rect x="510.33" y="175.04" width="12.91" height="5.27" fill="#ff9410"/>
<rect x="523.24" y="175.04" width="12.90" height="5.27" fill="#fff010"/>
<rect x="536.14" y="175.04" width="12.90" height="5.27" fill="#ffc010"/>
<rect x="549.04" y="175.04" width="12.90" height="5.27" fill="#ff6410"/>
<rect x="561.95" y="175.04" width="12.91" height="5.27" fill="#ff1a10"/>
<rect x="574.86" y="175.04" width="12.90" height="5.27" fill="#d0ff30"/>
<rect x="587.76" y="175.04" width="12.90" height="5.27" fill="#ff3c3c"/>
<rect x="600.66" y="175.04" width="12.90" height="5.27" fill="#ff6410"/>
<rect x="613.57" y="175.04" width="12.90" height="5.27" fill="#ff2a2a"/>
<rect x="626.47" y="175.04" width="12.91" height="5.27" fill="#ff2a2a"/>
<rect x="639.38" y="175.04" width="12.90" height="5.27" fill="#000080"/>
<rect x="652.28" y="175.04" width="12.90" height="5.27" fill="#000080"/>
<rect x="665.19" y="175.04" width="12.91" height="5.27" fill="#d0ff30"/>
<rect x="678.10" y="175.04" width="12.90" height="5.27" fill="#ff5050"/>
<rect x="691.00" y="175.04" width="12.90" height="5.27" fill="#000080"/>
<rect x="420.90" y="180.31" width="12.00" height="5.27" fill="#ff2a2a"/>
<rect x="432.90" y="180.31" width="12.90" height="5.27" fill="#ff9410"/>
<rect x="445.80" y="180.31" width="12.91" height="5.27" fill="#ff9410"/>
<rect x="458.71" y="180.31" width="12.90" height="5.27" fill="#ff5050"/>
<rect x="471.61" y="180.31" width="12.91" height="5.27" fill="#ff1a10"/>
<rect x="484.52" y="180.31" width="12.90" height="5.27" fill="#1060e0"/>
<rect x="497.42" y="180.31" width="12.91" height="5.27" fill="#000080"/>
<rect x="510.33" y="180.31" width="12.91" height="5.27" fill="#30e8ff"/>
<rect x="523.24" y="180.31" width="12.90" height="5.27" fill="#000080"/>
<rect x="536.14" y="180.31" width="12.90" height="5.27" fill="#000080"/>
<rect x="549.04" y="180.31" width="12.90" height="5.27" fill="#000080"/>
<rect x="561.95" y="180.31" width="12.91" height="5.27" fill="#000080"/>
<rect x="574.86" y="180.31" width="12.90" height="5.27" fill="#fff010"/>
<rect x="587.76" y="180.31" width="12.90" height="5.27" fill="#ff4010"/>
<rect x="600.66" y="180.31" width="12.90" height="5.27" fill="#d0ff30"/>
<rect x="613.57" y="180.31" width="12.90" height="5.27" fill="#80ff80"/>
<rect x="626.47" y="180.31" width="12.91" height="5.27" fill="#ff1a10"/>
<rect x="639.38" y="180.31" width="12.90" height="5.27" fill="#0818c8"/>
<rect x="652.28" y="180.31" width="12.90" height="5.27" fill="#ff5050"/>
<rect x="665.19" y="180.31" width="12.91" height="5.27" fill="#0818c8"/>
<rect x="678.10" y="180.31" width="12.90" height="5.27" fill="#000080"/>
<rect x="691.00" y="180.31" width="12.90" height="5.27" fill="#ff5050"/>
<rect x="420.90" y="185.58" width="12.00" height="5.27" fill="#ff5050"/>
<rect x="432.90" y="185.58" width="12.90" height="5.27" fill="#ff1a10"/>
<rect x="445.80" y="185.58" width="12.91" height="5.27" fill="#ff5050"/>
<rect x="458.71" y="185.58" width="12.90" height="5.27" fill="#ff1a10"/>
<rect x="471.61" y="185.58" width="12.91" height="5.27" fill="#ff2a2a"/>
<rect x="484.52" y="185.58" width="12.90" height="5.27" fill="#ff3c3c"/>
<rect x="497.42" y="185.58" width="12.91" height="5.27" fill="#fff010"/>
<rect x="510.33" y="185.58" width="12.91" height="5.27" fill="#d0ff30"/>
<rect x="523.24" y="185.58" width="12.90" height="5.27" fill="#fff010"/>
<rect x="536.14" y="185.58" width="12.90" height="5.27" fill="#000080"/>
<rect x="549.04" y="185.58" width="12.90" height="5.27" fill="#ffc010"/>
<rect x="561.95" y="185.58" width="12.91" height="5.27" fill="#000080"/>
<rect x="574.86" y="185.58" width="12.90" height="5.27" fill="#ff3c3c"/>
<rect x="587.76" y="185.58" width="12.90" height="5.27" fill="#000080"/>
<rect x="600.66" y="185.58" width="12.90" height="5.27" fill="#000080"/>
<rect x="613.57" y="185.58" width="12.90" height="5.27" fill="#ff4010"/>
<rect x="626.47" y="185.58" width="12.91" height="5.27" fill="#ff4010"/>
<rect x="639.38" y="185.58" width="12.90" height="5.27" fill="#000080"/>
<rect x="652.28" y="185.58" width="12.90" height="5.27" fill="#ff1a10"/>
<rect x="665.19" y="185.58" width="12.91" height="5.27" fill="#0818c8"/>
<rect x="678.10" y="185.58" width="12.90" height="5.27" fill="#000080"/>
<rect x="691.00" y="185.58" width="12.90" height="5.27" fill="#fff010"/>
<rect x="420.90" y="190.85" width="12.00" height="5.27" fill="#ff5050"/>
<rect x="432.90" y="190.85" width="12.90" height="5.27" fill="#ff2a2a"/>
<rect x="445.80" y="190.85" width="12.91" height="5.27" fill="#ff5050"/>
<rect x="458.71" y="190.85" width="12.90" height="5.27" fill="#30e8ff"/>
<rect x="471.61" y="190.85" width="12.91" height="5.27" fill="#ff1a10"/>
<rect x="484.52" y="190.85" width="12.90" height="5.27" fill="#ffc010"/>
<rect x="497.42" y="190.85" width="12.91" height="5.27" fill="#1090f0"/>
<rect x="510.33" y="190.85" width="12.91" height="5.27" fill="#000080"/>
<rect x="523.24" y="190.85" width="12.90" height="5.27" fill="#fff010"/>
<rect x="536.14" y="190.85" width="12.90" height="5.27" fill="#000080"/>
<rect x="549.04" y="190.85" width="12.90" height="5.27" fill="#ff9410"/>
<rect x="561.95" y="190.85" width="12.91" height="5.27" fill="#d0ff30"/>
<rect x="574.86" y="190.85" width="12.90" height="5.27" fill="#48ffc0"/>
<rect x="587.76" y="190.85" width="12.90" height="5.27" fill="#48ffc0"/>
<rect x="600.66" y="190.85" width="12.90" height="5.27" fill="#ff2a2a"/>
<rect x="613.57" y="190.85" width="12.90" height="5.27" fill="#ff1a10"/>
<rect x="626.47" y="190.85" width="12.91" height="5.27" fill="#000080"/>
<rect x="639.38" y="190.85" width="12.90" height="5.27" fill="#ff4010"/>
<rect x="652.28" y="190.85" width="12.90" height="5.27" fill="#000080"/>
<rect x="665.19" y="190.85" width="12.91" height="5.27" fill="#ff3c3c"/>
<rect x="678.10" y="190.85" width="12.90" height="5.27" fill="#ff3c3c"/>
<rect x="691.00" y="190.85" width="12.90" height="5.27" fill="#ff3c3c"/>
<rect x="420.90" y="196.12" width="12.00" height="5.27" fill="#ff5050"/>
<rect x="432.90" y="196.12" width="12.90" height="5.27" fill="#ff3c3c"/>
<rect x="445.80" y="196.12" width="12.91" height="5.27" fill="#ff3c3c"/>
<rect x="458.71" y="196.12" width="12.90" height="5.27" fill="#ff3c3c"/>
<rect x="471.61" y="196.12" width="12.91" height="5.27" fill="#ff3c3c"/>
<rect x="484.52" y="196.12" width="12.90" height="5.27" fill="#ff1a10"/>
<rect x="497.42" y="196.12" width="12.91" height="5.27" fill="#ff1a10"/>
<rect x="510.33" y="196.12" width="12.91" height="5.27" fill="#d0ff30"/>
<rect x="523.24" y="196.12" width="12.90" height="5.27" fill="#ffc010"/>
<rect x="536.14" y="196.12" width="12.90" height="5.27" fill="#48ffc0"/>
<rect x="549.04" y="196.12" width="12.90" height="5.27" fill="#80ff80"/>
<rect x="561.95" y="196.12" width="12.91" height="5.27" fill="#000080"/>
<rect x="574.86" y="196.12" width="12.90" height="5.27" fill="#80ff80"/>
<rect x="587.76" y="196.12" width="12.90" height="5.27" fill="#d0ff30"/>
<rect x="600.66" y="196.12" width="12.90" height="5.27" fill="#fff010"/>
<rect x="613.57" y="196.12" width="12.90" height="5.27" fill="#d0ff30"/>
<rect x="626.47" y="196.12" width="12.91" height="5.27" fill="#80ff80"/>
<rect x="639.38" y="196.12" width="12.90" height="5.27" fill="#000080"/>
<rect x="652.28" y="196.12" width="12.90" height="5.27" fill="#ff1a10"/>
<rect x="665.19" y="196.12" width="12.91" height="5.27" fill="#ff5050"/>
<rect x="678.10" y="196.12" width="12.90" height="5.27" fill="#ff5050"/>
<rect x="691.00" y="196.12" width="12.90" height="5.27" fill="#000080"/>
<rect x="420.90" y="201.39" width="12.00" height="5.27" fill="#ff1a10"/>
<rect x="432.90" y="201.39" width="12.90" height="5.27" fill="#ff1a10"/>
<rect x="445.80" y="201.39" width="12.91" height="5.27" fill="#ff2a2a"/>
<rect x="458.71" y="201.39" width="12.90" height="5.27" fill="#ff1a10"/>
<rect x="471.61" y="201.39" width="12.91" height="5.27" fill="#ff4010"/>
<rect x="484.52" y="201.39" width="12.90" height="5.27" fill="#ff1a10"/>
<rect x="497.42" y="201.39" width="12.91" height="5.27" fill="#ff4010"/>
<rect x="510.33" y="201.39" width="12.91" height="5.27" fill="#ffc010"/>
<rect x="523.24" y="201.39" width="12.90" height="5.27" fill="#fff010"/>
<rect x="536.14" y="201.39" width="12.90" height="5.27" fill="#000080"/>
<rect x="549.04" y="201.39" width="12.90" height="5.27" fill="#30e8ff"/>
<rect x="561.95" y="201.39" width="12.91" height="5.27" fill="#30e8ff"/>
<rect x="574.86" y="201.39" width="12.90" height="5.27" fill="#ff9410"/>
<rect x="587.76" y="201.39" width="12.90" height="5.27" fill="#ffc010"/>
<rect x="600.66" y="201.39" width="12.90" height="5.27" fill="#ff1a10"/>
<rect x="613.57" y="201.39" width="12.90" height="5.27" fill="#ff9410"/>
<rect x="626.47" y="201.39" width="12.91" height="5.27" fill="#ff9410"/>
<rect x="639.38" y="201.39" width="12.90" height="5.27" fill="#fff010"/>
<rect x="652.28" y="201.39" width="12.90" height="5.27" fill="#fff010"/>
<rect x="665.19" y="201.39" width="12.91" height="5.27" fill="#ff6410"/>
<rect x="678.10" y="201.39" width="12.90" height="5.27" fill="#ff1a10"/>
<rect x="691.00" y="201.39" width="12.90" height="5.27" fill="#000080"/>
<rect x="420.90" y="206.66" width="12.00" height="4.74" fill="#ff9410"/>
<rect x="432.90" y="206.66" width="12.90" height="4.74" fill="#ff9410"/>
<rect x="445.80" y="206.66" width="12.91" height="4.74" fill="#ff4010"/>
<rect x="458.71" y="206.66" width="12.90" height="4.74" fill="#ff1a10"/>
<rect x="471.61" y="206.66" width="12.91" height="4.74" fill="#ff1a10"/>
<rect x="484.52" y="206.66" width="12.90" height="4.74" fill="#ff4010"/>
<rect x="497.42" y="206.66" width="12.91" height="4.74" fill="#ff4010"/>
<rect x="510.33" y="206.66" width="12.91" height="4.74" fill="#48ffc0"/>
<rect x="523.24" y="206.66" width="12.90" height="4.74" fill="#d0ff30"/>
<rect x="536.14" y="206.66" width="12.90" height="4.74" fill="#000080"/>
<rect x="549.04" y="206.66" width="12.90" height="4.74" fill="#ffc010"/>
<rect x="561.95" y="206.66" width="12.91" height="4.74" fill="#30e8ff"/>
<rect x="574.86" y="206.66" width="12.90" height="4.74" fill="#ff9410"/>
<rect x="587.76" y="206.66" width="12.90" height="4.74" fill="#fff010"/>
<rect x="600.66" y="206.66" width="12.90" height="4.74" fill="#ff6410"/>
<rect x="613.57" y="206.66" width="12.90" height="4.74" fill="#ff6410"/>
<rect x="626.47" y="206.66" width="12.91" height="4.74" fill="#ff4010"/>
<rect x="639.38" y="206.66" width="12.90" height="4.74" fill="#ff4010"/>
<rect x="652.28" y="206.66" width="12.90" height="4.74" fill="#ff4010"/>
<rect x="665.19" y="206.66" width="12.91" height="4.74" fill="#48ffc0"/>
<rect x="678.10" y="206.66" width="12.90" height="4.74" fill="#ff4010"/>
<rect x="691.00" y="206.66" width="12.90" height="4.74" fill="#ff6410"/>
</g>
<line x1="420.50" y1="0.70" x2="420.50" y2="3.70" stroke="#000" stroke-width="1.0"/>
<line x1="420.50" y1="212.00" x2="420.50" y2="209.00" stroke="#000" stroke-width="1.0"/>
<line x1="452.50" y1="0.70" x2="452.50" y2="3.70" stroke="#000" stroke-width="1.0"/>
<line x1="452.50" y1="212.00" x2="452.50" y2="209.00" stroke="#000" stroke-width="1.0"/>
<line x1="477.50" y1="0.70" x2="477.50" y2="3.70" stroke="#000" stroke-width="1.0"/>
<line x1="477.50" y1="212.00" x2="477.50" y2="209.00" stroke="#000" stroke-width="1.0"/>
<line x1="498.50" y1="0.70" x2="498.50" y2="3.70" stroke="#000" stroke-width="1.0"/>
<line x1="498.50" y1="212.00" x2="498.50" y2="209.00" stroke="#000" stroke-width="1.0"/>
<line x1="515.50" y1="0.70" x2="515.50" y2="3.70" stroke="#000" stroke-width="1.0"/>
<line x1="515.50" y1="212.00" x2="515.50" y2="209.00" stroke="#000" stroke-width="1.0"/>
<line x1="530.50" y1="0.70" x2="530.50" y2="3.70" stroke="#000" stroke-width="1.0"/>
<line x1="530.50" y1="212.00" x2="530.50" y2="209.00" stroke="#000" stroke-width="1.0"/>
<line x1="543.50" y1="0.70" x2="543.50" y2="3.70" stroke="#000" stroke-width="1.0"/>
<line x1="543.50" y1="212.00" x2="543.50" y2="209.00" stroke="#000" stroke-width="1.0"/>
<line x1="555.50" y1="0.70" x2="555.50" y2="5.70" stroke="#000" stroke-width="1.0"/>
<line x1="555.50" y1="212.00" x2="555.50" y2="207.00" stroke="#000" stroke-width="1.0"/>
<line x1="632.50" y1="0.70" x2="632.50" y2="3.70" stroke="#000" stroke-width="1.0"/>
<line x1="632.50" y1="212.00" x2="632.50" y2="209.00" stroke="#000" stroke-width="1.0"/>
<line x1="677.50" y1="0.70" x2="677.50" y2="3.70" stroke="#000" stroke-width="1.0"/>
<line x1="677.50" y1="212.00" x2="677.50" y2="209.00" stroke="#000" stroke-width="1.0"/>
<rect x="414.60" y="0.70" width="6.30" height="211.30" fill="#fff"/>
<rect x="703.90" y="0.70" width="5.50" height="211.30" fill="#fff"/>
<line x1="414.60" y1="209.50" x2="420.60" y2="209.50" stroke="#000" stroke-width="1.0"/>
<line x1="709.40" y1="209.50" x2="703.40" y2="209.50" stroke="#000" stroke-width="1.0"/>
<line x1="414.60" y1="175.50" x2="417.60" y2="175.50" stroke="#000" stroke-width="1.0"/>
<line x1="709.40" y1="175.50" x2="706.40" y2="175.50" stroke="#000" stroke-width="1.0"/>
<line x1="414.60" y1="142.50" x2="420.60" y2="142.50" stroke="#000" stroke-width="1.0"/>
<line x1="709.40" y1="142.50" x2="703.40" y2="142.50" stroke="#000" stroke-width="1.0"/>
<line x1="414.60" y1="108.50" x2="417.60" y2="108.50" stroke="#000" stroke-width="1.0"/>
<line x1="709.40" y1="108.50" x2="706.40" y2="108.50" stroke="#000" stroke-width="1.0"/>
<line x1="414.60" y1="75.50" x2="420.60" y2="75.50" stroke="#000" stroke-width="1.0"/>
<line x1="709.40" y1="75.50" x2="703.40" y2="75.50" stroke="#000" stroke-width="1.0"/>
<line x1="414.60" y1="41.50" x2="417.60" y2="41.50" stroke="#000" stroke-width="1.0"/>
<line x1="709.40" y1="41.50" x2="706.40" y2="41.50" stroke="#000" stroke-width="1.0"/>
<line x1="414.60" y1="8.50" x2="420.60" y2="8.50" stroke="#000" stroke-width="1.0"/>
<line x1="709.40" y1="8.50" x2="703.40" y2="8.50" stroke="#000" stroke-width="1.0"/>
<rect x="414.60" y="0.70" width="294.80" height="211.30" fill="none" stroke="#000" stroke-width="1.6"/>
<g shape-rendering="crispEdges">
<rect x="35.95" y="281.40" width="27.03" height="5.40" fill="#000080"/>
<rect x="62.98" y="281.40" width="27.03" height="5.40" fill="#000080"/>
<rect x="90.01" y="281.40" width="27.03" height="5.40" fill="#000080"/>
<rect x="117.04" y="281.40" width="27.03" height="5.40" fill="#10c0f0"/>
<rect x="144.07" y="281.40" width="27.03" height="5.40" fill="#ffc010"/>
<rect x="171.10" y="281.40" width="27.03" height="5.40" fill="#ffc010"/>
<rect x="198.13" y="281.40" width="27.03" height="5.40" fill="#ff2a2a"/>
<rect x="225.16" y="281.40" width="27.03" height="5.40" fill="#ff2a2a"/>
<rect x="252.19" y="281.40" width="27.03" height="5.40" fill="#ff2a2a"/>
<rect x="279.22" y="281.40" width="27.03" height="5.40" fill="#ff2a2a"/>
<rect x="306.25" y="281.40" width="25.05" height="5.40" fill="#ff2a2a"/>
<rect x="35.95" y="286.80" width="27.03" height="5.27" fill="#000080"/>
<rect x="62.98" y="286.80" width="27.03" height="5.27" fill="#000080"/>
<rect x="90.01" y="286.80" width="27.03" height="5.27" fill="#1090f0"/>
<rect x="117.04" y="286.80" width="27.03" height="5.27" fill="#10c0f0"/>
<rect x="144.07" y="286.80" width="27.03" height="5.27" fill="#ff4010"/>
<rect x="171.10" y="286.80" width="27.03" height="5.27" fill="#ff1a10"/>
<rect x="198.13" y="286.80" width="27.03" height="5.27" fill="#fff010"/>
<rect x="225.16" y="286.80" width="27.03" height="5.27" fill="#ff5050"/>
<rect x="252.19" y="286.80" width="27.03" height="5.27" fill="#ff5050"/>
<rect x="279.22" y="286.80" width="27.03" height="5.27" fill="#ff5050"/>
<rect x="306.25" y="286.80" width="25.05" height="5.27" fill="#ff5050"/>
<rect x="35.95" y="292.07" width="27.03" height="5.27" fill="#000080"/>
<rect x="62.98" y="292.07" width="27.03" height="5.27" fill="#000080"/>
<rect x="90.01" y="292.07" width="27.03" height="5.27" fill="#000080"/>
<rect x="117.04" y="292.07" width="27.03" height="5.27" fill="#d0ff30"/>
<rect x="144.07" y="292.07" width="27.03" height="5.27" fill="#ffc010"/>
<rect x="171.10" y="292.07" width="27.03" height="5.27" fill="#ff6410"/>
<rect x="198.13" y="292.07" width="27.03" height="5.27" fill="#ff2a2a"/>
<rect x="225.16" y="292.07" width="27.03" height="5.27" fill="#ff3c3c"/>
<rect x="252.19" y="292.07" width="27.03" height="5.27" fill="#ff2a2a"/>
<rect x="279.22" y="292.07" width="27.03" height="5.27" fill="#ff3c3c"/>
<rect x="306.25" y="292.07" width="25.05" height="5.27" fill="#ff5050"/>
<rect x="35.95" y="297.34" width="27.03" height="5.27" fill="#000080"/>
<rect x="62.98" y="297.34" width="27.03" height="5.27" fill="#000080"/>
<rect x="90.01" y="297.34" width="27.03" height="5.27" fill="#000080"/>
<rect x="117.04" y="297.34" width="27.03" height="5.27" fill="#000080"/>
<rect x="144.07" y="297.34" width="27.03" height="5.27" fill="#1060e0"/>
<rect x="171.10" y="297.34" width="27.03" height="5.27" fill="#ff1a10"/>
<rect x="198.13" y="297.34" width="27.03" height="5.27" fill="#ff3c3c"/>
<rect x="225.16" y="297.34" width="27.03" height="5.27" fill="#ff1a10"/>
<rect x="252.19" y="297.34" width="27.03" height="5.27" fill="#ff1a10"/>
<rect x="279.22" y="297.34" width="27.03" height="5.27" fill="#ff1a10"/>
<rect x="306.25" y="297.34" width="25.05" height="5.27" fill="#ff1a10"/>
<rect x="35.95" y="302.61" width="27.03" height="5.27" fill="#000080"/>
<rect x="62.98" y="302.61" width="27.03" height="5.27" fill="#000080"/>
<rect x="90.01" y="302.61" width="27.03" height="5.27" fill="#000080"/>
<rect x="117.04" y="302.61" width="27.03" height="5.27" fill="#48ffc0"/>
<rect x="144.07" y="302.61" width="27.03" height="5.27" fill="#ffc010"/>
<rect x="171.10" y="302.61" width="27.03" height="5.27" fill="#ff1a10"/>
<rect x="198.13" y="302.61" width="27.03" height="5.27" fill="#ff2a2a"/>
<rect x="225.16" y="302.61" width="27.03" height="5.27" fill="#ff5050"/>
<rect x="252.19" y="302.61" width="27.03" height="5.27" fill="#ff1a10"/>
<rect x="279.22" y="302.61" width="27.03" height="5.27" fill="#ff9410"/>
<rect x="306.25" y="302.61" width="25.05" height="5.27" fill="#ff2a2a"/>
<rect x="35.95" y="307.88" width="27.03" height="5.27" fill="#000080"/>
<rect x="62.98" y="307.88" width="27.03" height="5.27" fill="#000080"/>
<rect x="90.01" y="307.88" width="27.03" height="5.27" fill="#000080"/>
<rect x="117.04" y="307.88" width="27.03" height="5.27" fill="#000080"/>
<rect x="144.07" y="307.88" width="27.03" height="5.27" fill="#000080"/>
<rect x="171.10" y="307.88" width="27.03" height="5.27" fill="#ff1a10"/>
<rect x="198.13" y="307.88" width="27.03" height="5.27" fill="#ff4010"/>
<rect x="225.16" y="307.88" width="27.03" height="5.27" fill="#ff2a2a"/>
<rect x="252.19" y="307.88" width="27.03" height="5.27" fill="#ff5050"/>
<rect x="279.22" y="307.88" width="27.03" height="5.27" fill="#ff1a10"/>
<rect x="306.25" y="307.88" width="25.05" height="5.27" fill="#ff6410"/>
<rect x="35.95" y="313.15" width="27.03" height="5.27" fill="#000080"/>
<rect x="62.98" y="313.15" width="27.03" height="5.27" fill="#000080"/>
<rect x="90.01" y="313.15" width="27.03" height="5.27" fill="#000080"/>
<rect x="117.04" y="313.15" width="27.03" height="5.27" fill="#000080"/>
<rect x="144.07" y="313.15" width="27.03" height="5.27" fill="#d0ff30"/>
<rect x="171.10" y="313.15" width="27.03" height="5.27" fill="#fff010"/>
<rect x="198.13" y="313.15" width="27.03" height="5.27" fill="#ff1a10"/>
<rect x="225.16" y="313.15" width="27.03" height="5.27" fill="#ff4010"/>
<rect x="252.19" y="313.15" width="27.03" height="5.27" fill="#ff3c3c"/>
<rect x="279.22" y="313.15" width="27.03" height="5.27" fill="#ff5050"/>
<rect x="306.25" y="313.15" width="25.05" height="5.27" fill="#ff5050"/>
<rect x="35.95" y="318.42" width="27.03" height="5.27" fill="#000080"/>
<rect x="62.98" y="318.42" width="27.03" height="5.27" fill="#000080"/>
<rect x="90.01" y="318.42" width="27.03" height="5.27" fill="#000080"/>
<rect x="117.04" y="318.42" width="27.03" height="5.27" fill="#1090f0"/>
<rect x="144.07" y="318.42" width="27.03" height="5.27" fill="#d0ff30"/>
<rect x="171.10" y="318.42" width="27.03" height="5.27" fill="#ffc010"/>
<rect x="198.13" y="318.42" width="27.03" height="5.27" fill="#ff9410"/>
<rect x="225.16" y="318.42" width="27.03" height="5.27" fill="#ff1a10"/>
<rect x="252.19" y="318.42" width="27.03" height="5.27" fill="#ff3c3c"/>
<rect x="279.22" y="318.42" width="27.03" height="5.27" fill="#ff5050"/>
<rect x="306.25" y="318.42" width="25.05" height="5.27" fill="#ff1a10"/>
<rect x="35.95" y="323.69" width="27.03" height="5.27" fill="#000080"/>
<rect x="62.98" y="323.69" width="27.03" height="5.27" fill="#000080"/>
<rect x="90.01" y="323.69" width="27.03" height="5.27" fill="#000080"/>
<rect x="117.04" y="323.69" width="27.03" height="5.27" fill="#000080"/>
<rect x="144.07" y="323.69" width="27.03" height="5.27" fill="#fff010"/>
<rect x="171.10" y="323.69" width="27.03" height="5.27" fill="#ffc010"/>
<rect x="198.13" y="323.69" width="27.03" height="5.27" fill="#d0ff30"/>
<rect x="225.16" y="323.69" width="27.03" height="5.27" fill="#ff9410"/>
<rect x="252.19" y="323.69" width="27.03" height="5.27" fill="#ff1a10"/>
<rect x="279.22" y="323.69" width="27.03" height="5.27" fill="#ff2a2a"/>
<rect x="306.25" y="323.69" width="25.05" height="5.27" fill="#ff3c3c"/>
<rect x="35.95" y="328.96" width="27.03" height="5.27" fill="#000080"/>
<rect x="62.98" y="328.96" width="27.03" height="5.27" fill="#000080"/>
<rect x="90.01" y="328.96" width="27.03" height="5.27" fill="#000080"/>
<rect x="117.04" y="328.96" width="27.03" height="5.27" fill="#000080"/>
<rect x="144.07" y="328.96" width="27.03" height="5.27" fill="#fff010"/>
<rect x="171.10" y="328.96" width="27.03" height="5.27" fill="#fff010"/>
<rect x="198.13" y="328.96" width="27.03" height="5.27" fill="#ff6410"/>
<rect x="225.16" y="328.96" width="27.03" height="5.27" fill="#ff9410"/>
<rect x="252.19" y="328.96" width="27.03" height="5.27" fill="#ffc010"/>
<rect x="279.22" y="328.96" width="27.03" height="5.27" fill="#ff1a10"/>
<rect x="306.25" y="328.96" width="25.05" height="5.27" fill="#ff1a10"/>
<rect x="35.95" y="334.23" width="27.03" height="5.27" fill="#000080"/>
<rect x="62.98" y="334.23" width="27.03" height="5.27" fill="#000080"/>
<rect x="90.01" y="334.23" width="27.03" height="5.27" fill="#000080"/>
<rect x="117.04" y="334.23" width="27.03" height="5.27" fill="#48ffc0"/>
<rect x="144.07" y="334.23" width="27.03" height="5.27" fill="#000080"/>
<rect x="171.10" y="334.23" width="27.03" height="5.27" fill="#d0ff30"/>
<rect x="198.13" y="334.23" width="27.03" height="5.27" fill="#ffc010"/>
<rect x="225.16" y="334.23" width="27.03" height="5.27" fill="#ff9410"/>
<rect x="252.19" y="334.23" width="27.03" height="5.27" fill="#ff3c3c"/>
<rect x="279.22" y="334.23" width="27.03" height="5.27" fill="#ff5050"/>
<rect x="306.25" y="334.23" width="25.05" height="5.27" fill="#ff2a2a"/>
<rect x="35.95" y="339.50" width="27.03" height="5.27" fill="#000080"/>
<rect x="62.98" y="339.50" width="27.03" height="5.27" fill="#000080"/>
<rect x="90.01" y="339.50" width="27.03" height="5.27" fill="#000080"/>
<rect x="117.04" y="339.50" width="27.03" height="5.27" fill="#000080"/>
<rect x="144.07" y="339.50" width="27.03" height="5.27" fill="#30e8ff"/>
<rect x="171.10" y="339.50" width="27.03" height="5.27" fill="#fff010"/>
<rect x="198.13" y="339.50" width="27.03" height="5.27" fill="#fff010"/>
<rect x="225.16" y="339.50" width="27.03" height="5.27" fill="#ff1a10"/>
<rect x="252.19" y="339.50" width="27.03" height="5.27" fill="#ff3c3c"/>
<rect x="279.22" y="339.50" width="27.03" height="5.27" fill="#ff5050"/>
<rect x="306.25" y="339.50" width="25.05" height="5.27" fill="#ff5050"/>
<rect x="35.95" y="344.77" width="27.03" height="5.27" fill="#000080"/>
<rect x="62.98" y="344.77" width="27.03" height="5.27" fill="#000080"/>
<rect x="90.01" y="344.77" width="27.03" height="5.27" fill="#000080"/>
<rect x="117.04" y="344.77" width="27.03" height="5.27" fill="#000080"/>
<rect x="144.07" y="344.77" width="27.03" height="5.27" fill="#1060e0"/>
<rect x="171.10" y="344.77" width="27.03" height="5.27" fill="#ff4010"/>
<rect x="198.13" y="344.77" width="27.03" height="5.27" fill="#ff1a10"/>
<rect x="225.16" y="344.77" width="27.03" height="5.27" fill="#ff1a10"/>
<rect x="252.19" y="344.77" width="27.03" height="5.27" fill="#ff5050"/>
<rect x="279.22" y="344.77" width="27.03" height="5.27" fill="#ff5050"/>
<rect x="306.25" y="344.77" width="25.05" height="5.27" fill="#ff1a10"/>
<rect x="35.95" y="350.04" width="27.03" height="5.27" fill="#000080"/>
<rect x="62.98" y="350.04" width="27.03" height="5.27" fill="#000080"/>
<rect x="90.01" y="350.04" width="27.03" height="5.27" fill="#000080"/>
<rect x="117.04" y="350.04" width="27.03" height="5.27" fill="#a0ff48"/>
<rect x="144.07" y="350.04" width="27.03" height="5.27" fill="#ffc010"/>
<rect x="171.10" y="350.04" width="27.03" height="5.27" fill="#fff010"/>
<rect x="198.13" y="350.04" width="27.03" height="5.27" fill="#ff1a10"/>
<rect x="225.16" y="350.04" width="27.03" height="5.27" fill="#ff3c3c"/>
<rect x="252.19" y="350.04" width="27.03" height="5.27" fill="#ff5050"/>
<rect x="279.22" y="350.04" width="27.03" height="5.27" fill="#ff5050"/>
<rect x="306.25" y="350.04" width="25.05" height="5.27" fill="#ff6410"/>
<rect x="35.95" y="355.31" width="27.03" height="5.27" fill="#000080"/>
<rect x="62.98" y="355.31" width="27.03" height="5.27" fill="#000080"/>
<rect x="90.01" y="355.31" width="27.03" height="5.27" fill="#a0ff48"/>
<rect x="117.04" y="355.31" width="27.03" height="5.27" fill="#d0ff30"/>
<rect x="144.07" y="355.31" width="27.03" height="5.27" fill="#ff6410"/>
<rect x="171.10" y="355.31" width="27.03" height="5.27" fill="#ff1a10"/>
<rect x="198.13" y="355.31" width="27.03" height="5.27" fill="#ff3c3c"/>
<rect x="225.16" y="355.31" width="27.03" height="5.27" fill="#ff3c3c"/>
<rect x="252.19" y="355.31" width="27.03" height="5.27" fill="#ff5050"/>
<rect x="279.22" y="355.31" width="27.03" height="5.27" fill="#ff5050"/>
<rect x="306.25" y="355.31" width="25.05" height="5.27" fill="#ff2a2a"/>
<rect x="35.95" y="360.58" width="27.03" height="5.27" fill="#000080"/>
<rect x="62.98" y="360.58" width="27.03" height="5.27" fill="#000080"/>
<rect x="90.01" y="360.58" width="27.03" height="5.27" fill="#d0ff30"/>
<rect x="117.04" y="360.58" width="27.03" height="5.27" fill="#ff9410"/>
<rect x="144.07" y="360.58" width="27.03" height="5.27" fill="#ff1a10"/>
<rect x="171.10" y="360.58" width="27.03" height="5.27" fill="#ff2a2a"/>
<rect x="198.13" y="360.58" width="27.03" height="5.27" fill="#ff3c3c"/>
<rect x="225.16" y="360.58" width="27.03" height="5.27" fill="#ff5050"/>
<rect x="252.19" y="360.58" width="27.03" height="5.27" fill="#ff3c3c"/>
<rect x="279.22" y="360.58" width="27.03" height="5.27" fill="#ff5050"/>
<rect x="306.25" y="360.58" width="25.05" height="5.27" fill="#ffc010"/>
<rect x="35.95" y="365.85" width="27.03" height="5.27" fill="#000080"/>
<rect x="62.98" y="365.85" width="27.03" height="5.27" fill="#000080"/>
<rect x="90.01" y="365.85" width="27.03" height="5.27" fill="#d0ff30"/>
<rect x="117.04" y="365.85" width="27.03" height="5.27" fill="#a0ff48"/>
<rect x="144.07" y="365.85" width="27.03" height="5.27" fill="#ff2a2a"/>
<rect x="171.10" y="365.85" width="27.03" height="5.27" fill="#ff2a2a"/>
<rect x="198.13" y="365.85" width="27.03" height="5.27" fill="#ff2a2a"/>
<rect x="225.16" y="365.85" width="27.03" height="5.27" fill="#ff2a2a"/>
<rect x="252.19" y="365.85" width="27.03" height="5.27" fill="#ff5050"/>
<rect x="279.22" y="365.85" width="27.03" height="5.27" fill="#ff5050"/>
<rect x="306.25" y="365.85" width="25.05" height="5.27" fill="#ff5050"/>
<rect x="35.95" y="371.12" width="27.03" height="5.27" fill="#000080"/>
<rect x="62.98" y="371.12" width="27.03" height="5.27" fill="#000080"/>
<rect x="90.01" y="371.12" width="27.03" height="5.27" fill="#ff9410"/>
<rect x="117.04" y="371.12" width="27.03" height="5.27" fill="#ff4010"/>
<rect x="144.07" y="371.12" width="27.03" height="5.27" fill="#ff2a2a"/>
<rect x="171.10" y="371.12" width="27.03" height="5.27" fill="#ff1a10"/>
<rect x="198.13" y="371.12" width="27.03" height="5.27" fill="#ff2a2a"/>
<rect x="225.16" y="371.12" width="27.03" height="5.27" fill="#ff3c3c"/>
<rect x="252.19" y="371.12" width="27.03" height="5.27" fill="#ff5050"/>
<rect x="279.22" y="371.12" width="27.03" height="5.27" fill="#ff5050"/>
<rect x="306.25" y="371.12" width="25.05" height="5.27" fill="#ff2a2a"/>
<rect x="35.95" y="376.39" width="27.03" height="5.27" fill="#000080"/>
<rect x="62.98" y="376.39" width="27.03" height="5.27" fill="#48ffc0"/>
<rect x="90.01" y="376.39" width="27.03" height="5.27" fill="#d0ff30"/>
<rect x="117.04" y="376.39" width="27.03" height="5.27" fill="#ffc010"/>
<rect x="144.07" y="376.39" width="27.03" height="5.27" fill="#000080"/>
<rect x="171.10" y="376.39" width="27.03" height="5.27" fill="#ff9410"/>
<rect x="198.13" y="376.39" width="27.03" height="5.27" fill="#ff2a2a"/>
<rect x="225.16" y="376.39" width="27.03" height="5.27" fill="#ff3c3c"/>
<rect x="252.19" y="376.39" width="27.03" height="5.27" fill="#ff5050"/>
<rect x="279.22" y="376.39" width="27.03" height="5.27" fill="#ffc010"/>
<rect x="306.25" y="376.39" width="25.05" height="5.27" fill="#ff9410"/>
<rect x="35.95" y="381.66" width="27.03" height="5.27" fill="#000080"/>
<rect x="62.98" y="381.66" width="27.03" height="5.27" fill="#000080"/>
<rect x="90.01" y="381.66" width="27.03" height="5.27" fill="#000080"/>
<rect x="117.04" y="381.66" width="27.03" height="5.27" fill="#000080"/>
<rect x="144.07" y="381.66" width="27.03" height="5.27" fill="#0818c8"/>
<rect x="171.10" y="381.66" width="27.03" height="5.27" fill="#ff6410"/>
<rect x="198.13" y="381.66" width="27.03" height="5.27" fill="#ff1a10"/>
<rect x="225.16" y="381.66" width="27.03" height="5.27" fill="#ff1a10"/>
<rect x="252.19" y="381.66" width="27.03" height="5.27" fill="#ff1a10"/>
<rect x="279.22" y="381.66" width="27.03" height="5.27" fill="#ff6410"/>
<rect x="306.25" y="381.66" width="25.05" height="5.27" fill="#ff9410"/>
<rect x="35.95" y="386.93" width="27.03" height="5.27" fill="#000080"/>
<rect x="62.98" y="386.93" width="27.03" height="5.27" fill="#1090f0"/>
<rect x="90.01" y="386.93" width="27.03" height="5.27" fill="#fff010"/>
<rect x="117.04" y="386.93" width="27.03" height="5.27" fill="#0818c8"/>
<rect x="144.07" y="386.93" width="27.03" height="5.27" fill="#000080"/>
<rect x="171.10" y="386.93" width="27.03" height="5.27" fill="#ff6410"/>
<rect x="198.13" y="386.93" width="27.03" height="5.27" fill="#ff4010"/>
<rect x="225.16" y="386.93" width="27.03" height="5.27" fill="#ff1a10"/>
<rect x="252.19" y="386.93" width="27.03" height="5.27" fill="#ff3c3c"/>
<rect x="279.22" y="386.93" width="27.03" height="5.27" fill="#ff3c3c"/>
<rect x="306.25" y="386.93" width="25.05" height="5.27" fill="#ff1a10"/>
<rect x="35.95" y="392.20" width="27.03" height="5.27" fill="#000080"/>
<rect x="62.98" y="392.20" width="27.03" height="5.27" fill="#000080"/>
<rect x="90.01" y="392.20" width="27.03" height="5.27" fill="#ff9410"/>
<rect x="117.04" y="392.20" width="27.03" height="5.27" fill="#ff6410"/>
<rect x="144.07" y="392.20" width="27.03" height="5.27" fill="#ff1a10"/>
<rect x="171.10" y="392.20" width="27.03" height="5.27" fill="#ff2a2a"/>
<rect x="198.13" y="392.20" width="27.03" height="5.27" fill="#ff2a2a"/>
<rect x="225.16" y="392.20" width="27.03" height="5.27" fill="#ff5050"/>
<rect x="252.19" y="392.20" width="27.03" height="5.27" fill="#ff5050"/>
<rect x="279.22" y="392.20" width="27.03" height="5.27" fill="#ff5050"/>
<rect x="306.25" y="392.20" width="25.05" height="5.27" fill="#ff5050"/>
<rect x="35.95" y="397.47" width="27.03" height="5.27" fill="#000080"/>
<rect x="62.98" y="397.47" width="27.03" height="5.27" fill="#000080"/>
<rect x="90.01" y="397.47" width="27.03" height="5.27" fill="#d0ff30"/>
<rect x="117.04" y="397.47" width="27.03" height="5.27" fill="#fff010"/>
<rect x="144.07" y="397.47" width="27.03" height="5.27" fill="#ff1a10"/>
<rect x="171.10" y="397.47" width="27.03" height="5.27" fill="#ff1a10"/>
<rect x="198.13" y="397.47" width="27.03" height="5.27" fill="#ff2a2a"/>
<rect x="225.16" y="397.47" width="27.03" height="5.27" fill="#ff1a10"/>
<rect x="252.19" y="397.47" width="27.03" height="5.27" fill="#ff5050"/>
<rect x="279.22" y="397.47" width="27.03" height="5.27" fill="#ff5050"/>
<rect x="306.25" y="397.47" width="25.05" height="5.27" fill="#ff5050"/>
<rect x="35.95" y="402.74" width="27.03" height="5.27" fill="#000080"/>
<rect x="62.98" y="402.74" width="27.03" height="5.27" fill="#000080"/>
<rect x="90.01" y="402.74" width="27.03" height="5.27" fill="#d0ff30"/>
<rect x="117.04" y="402.74" width="27.03" height="5.27" fill="#fff010"/>
<rect x="144.07" y="402.74" width="27.03" height="5.27" fill="#ff1a10"/>
<rect x="171.10" y="402.74" width="27.03" height="5.27" fill="#ff1a10"/>
<rect x="198.13" y="402.74" width="27.03" height="5.27" fill="#ff3c3c"/>
<rect x="225.16" y="402.74" width="27.03" height="5.27" fill="#ff5050"/>
<rect x="252.19" y="402.74" width="27.03" height="5.27" fill="#ff3c3c"/>
<rect x="279.22" y="402.74" width="27.03" height="5.27" fill="#ff3c3c"/>
<rect x="306.25" y="402.74" width="25.05" height="5.27" fill="#ff5050"/>
<rect x="35.95" y="408.01" width="27.03" height="5.27" fill="#000080"/>
<rect x="62.98" y="408.01" width="27.03" height="5.27" fill="#000080"/>
<rect x="90.01" y="408.01" width="27.03" height="5.27" fill="#a0ff48"/>
<rect x="117.04" y="408.01" width="27.03" height="5.27" fill="#fff010"/>
<rect x="144.07" y="408.01" width="27.03" height="5.27" fill="#ff6410"/>
<rect x="171.10" y="408.01" width="27.03" height="5.27" fill="#ff2a2a"/>
<rect x="198.13" y="408.01" width="27.03" height="5.27" fill="#ff3c3c"/>
<rect x="225.16" y="408.01" width="27.03" height="5.27" fill="#ff1a10"/>
<rect x="252.19" y="408.01" width="27.03" height="5.27" fill="#ff3c3c"/>
<rect x="279.22" y="408.01" width="27.03" height="5.27" fill="#ff3c3c"/>
<rect x="306.25" y="408.01" width="25.05" height="5.27" fill="#ff9410"/>
<rect x="35.95" y="413.28" width="27.03" height="5.27" fill="#000080"/>
<rect x="62.98" y="413.28" width="27.03" height="5.27" fill="#000080"/>
<rect x="90.01" y="413.28" width="27.03" height="5.27" fill="#000080"/>
<rect x="117.04" y="413.28" width="27.03" height="5.27" fill="#fff010"/>
<rect x="144.07" y="413.28" width="27.03" height="5.27" fill="#ff4010"/>
<rect x="171.10" y="413.28" width="27.03" height="5.27" fill="#ff9410"/>
<rect x="198.13" y="413.28" width="27.03" height="5.27" fill="#ff1a10"/>
<rect x="225.16" y="413.28" width="27.03" height="5.27" fill="#ff3c3c"/>
<rect x="252.19" y="413.28" width="27.03" height="5.27" fill="#ff5050"/>
<rect x="279.22" y="413.28" width="27.03" height="5.27" fill="#ff3c3c"/>
<rect x="306.25" y="413.28" width="25.05" height="5.27" fill="#ff1a10"/>
<rect x="35.95" y="418.55" width="27.03" height="5.27" fill="#000080"/>
<rect x="62.98" y="418.55" width="27.03" height="5.27" fill="#000080"/>
<rect x="90.01" y="418.55" width="27.03" height="5.27" fill="#000080"/>
<rect x="117.04" y="418.55" width="27.03" height="5.27" fill="#30e8ff"/>
<rect x="144.07" y="418.55" width="27.03" height="5.27" fill="#1060e0"/>
<rect x="171.10" y="418.55" width="27.03" height="5.27" fill="#ff9410"/>
<rect x="198.13" y="418.55" width="27.03" height="5.27" fill="#ff1a10"/>
<rect x="225.16" y="418.55" width="27.03" height="5.27" fill="#ff2a2a"/>
<rect x="252.19" y="418.55" width="27.03" height="5.27" fill="#ff5050"/>
<rect x="279.22" y="418.55" width="27.03" height="5.27" fill="#ff5050"/>
<rect x="306.25" y="418.55" width="25.05" height="5.27" fill="#ff2a2a"/>
<rect x="35.95" y="423.82" width="27.03" height="5.27" fill="#000080"/>
<rect x="62.98" y="423.82" width="27.03" height="5.27" fill="#000080"/>
<rect x="90.01" y="423.82" width="27.03" height="5.27" fill="#000080"/>
<rect x="117.04" y="423.82" width="27.03" height="5.27" fill="#000080"/>
<rect x="144.07" y="423.82" width="27.03" height="5.27" fill="#1090f0"/>
<rect x="171.10" y="423.82" width="27.03" height="5.27" fill="#ff9410"/>
<rect x="198.13" y="423.82" width="27.03" height="5.27" fill="#ff6410"/>
<rect x="225.16" y="423.82" width="27.03" height="5.27" fill="#ff2a2a"/>
<rect x="252.19" y="423.82" width="27.03" height="5.27" fill="#ff2a2a"/>
<rect x="279.22" y="423.82" width="27.03" height="5.27" fill="#ff3c3c"/>
<rect x="306.25" y="423.82" width="25.05" height="5.27" fill="#ff5050"/>
<rect x="35.95" y="429.09" width="27.03" height="5.27" fill="#000080"/>
<rect x="62.98" y="429.09" width="27.03" height="5.27" fill="#000080"/>
<rect x="90.01" y="429.09" width="27.03" height="5.27" fill="#000080"/>
<rect x="117.04" y="429.09" width="27.03" height="5.27" fill="#000080"/>
<rect x="144.07" y="429.09" width="27.03" height="5.27" fill="#000080"/>
<rect x="171.10" y="429.09" width="27.03" height="5.27" fill="#d0ff30"/>
<rect x="198.13" y="429.09" width="27.03" height="5.27" fill="#fff010"/>
<rect x="225.16" y="429.09" width="27.03" height="5.27" fill="#ff6410"/>
<rect x="252.19" y="429.09" width="27.03" height="5.27" fill="#ff2a2a"/>
<rect x="279.22" y="429.09" width="27.03" height="5.27" fill="#ff1a10"/>
<rect x="306.25" y="429.09" width="25.05" height="5.27" fill="#ff1a10"/>
<rect x="35.95" y="434.36" width="27.03" height="5.27" fill="#000080"/>
<rect x="62.98" y="434.36" width="27.03" height="5.27" fill="#000080"/>
<rect x="90.01" y="434.36" width="27.03" height="5.27" fill="#000080"/>
<rect x="117.04" y="434.36" width="27.03" height="5.27" fill="#000080"/>
<rect x="144.07" y="434.36" width="27.03" height="5.27" fill="#fff010"/>
<rect x="171.10" y="434.36" width="27.03" height="5.27" fill="#d0ff30"/>
<rect x="198.13" y="434.36" width="27.03" height="5.27" fill="#fff010"/>
<rect x="225.16" y="434.36" width="27.03" height="5.27" fill="#ffc010"/>
<rect x="252.19" y="434.36" width="27.03" height="5.27" fill="#ff4010"/>
<rect x="279.22" y="434.36" width="27.03" height="5.27" fill="#ff1a10"/>
<rect x="306.25" y="434.36" width="25.05" height="5.27" fill="#ff1a10"/>
<rect x="35.95" y="439.63" width="27.03" height="5.27" fill="#000080"/>
<rect x="62.98" y="439.63" width="27.03" height="5.27" fill="#000080"/>
<rect x="90.01" y="439.63" width="27.03" height="5.27" fill="#000080"/>
<rect x="117.04" y="439.63" width="27.03" height="5.27" fill="#000080"/>
<rect x="144.07" y="439.63" width="27.03" height="5.27" fill="#a0ff48"/>
<rect x="171.10" y="439.63" width="27.03" height="5.27" fill="#d0ff30"/>
<rect x="198.13" y="439.63" width="27.03" height="5.27" fill="#48ffc0"/>
<rect x="225.16" y="439.63" width="27.03" height="5.27" fill="#ff1a10"/>
<rect x="252.19" y="439.63" width="27.03" height="5.27" fill="#ff3c3c"/>
<rect x="279.22" y="439.63" width="27.03" height="5.27" fill="#ff1a10"/>
<rect x="306.25" y="439.63" width="25.05" height="5.27" fill="#ff4010"/>
<rect x="35.95" y="444.90" width="27.03" height="5.27" fill="#000080"/>
<rect x="62.98" y="444.90" width="27.03" height="5.27" fill="#000080"/>
<rect x="90.01" y="444.90" width="27.03" height="5.27" fill="#000080"/>
<rect x="117.04" y="444.90" width="27.03" height="5.27" fill="#30e8ff"/>
<rect x="144.07" y="444.90" width="27.03" height="5.27" fill="#a0ff48"/>
<rect x="171.10" y="444.90" width="27.03" height="5.27" fill="#ffc010"/>
<rect x="198.13" y="444.90" width="27.03" height="5.27" fill="#fff010"/>
<rect x="225.16" y="444.90" width="27.03" height="5.27" fill="#ff1a10"/>
<rect x="252.19" y="444.90" width="27.03" height="5.27" fill="#ff3c3c"/>
<rect x="279.22" y="444.90" width="27.03" height="5.27" fill="#ff1a10"/>
<rect x="306.25" y="444.90" width="25.05" height="5.27" fill="#ff4010"/>
<rect x="35.95" y="450.17" width="27.03" height="5.27" fill="#000080"/>
<rect x="62.98" y="450.17" width="27.03" height="5.27" fill="#000080"/>
<rect x="90.01" y="450.17" width="27.03" height="5.27" fill="#000080"/>
<rect x="117.04" y="450.17" width="27.03" height="5.27" fill="#0818c8"/>
<rect x="144.07" y="450.17" width="27.03" height="5.27" fill="#a0ff48"/>
<rect x="171.10" y="450.17" width="27.03" height="5.27" fill="#fff010"/>
<rect x="198.13" y="450.17" width="27.03" height="5.27" fill="#ffc010"/>
<rect x="225.16" y="450.17" width="27.03" height="5.27" fill="#ff2a2a"/>
<rect x="252.19" y="450.17" width="27.03" height="5.27" fill="#ff2a2a"/>
<rect x="279.22" y="450.17" width="27.03" height="5.27" fill="#ff5050"/>
<rect x="306.25" y="450.17" width="25.05" height="5.27" fill="#ff1a10"/>
<rect x="35.95" y="455.44" width="27.03" height="5.27" fill="#000080"/>
<rect x="62.98" y="455.44" width="27.03" height="5.27" fill="#000080"/>
<rect x="90.01" y="455.44" width="27.03" height="5.27" fill="#000080"/>
<rect x="117.04" y="455.44" width="27.03" height="5.27" fill="#000080"/>
<rect x="144.07" y="455.44" width="27.03" height="5.27" fill="#48ffc0"/>
<rect x="171.10" y="455.44" width="27.03" height="5.27" fill="#ff1a10"/>
<rect x="198.13" y="455.44" width="27.03" height="5.27" fill="#80ff80"/>
<rect x="225.16" y="455.44" width="27.03" height="5.27" fill="#ff2a2a"/>
<rect x="252.19" y="455.44" width="27.03" height="5.27" fill="#ff5050"/>
<rect x="279.22" y="455.44" width="27.03" height="5.27" fill="#ff3c3c"/>
<rect x="306.25" y="455.44" width="25.05" height="5.27" fill="#ff1a10"/>
<rect x="35.95" y="460.71" width="27.03" height="5.27" fill="#000080"/>
<rect x="62.98" y="460.71" width="27.03" height="5.27" fill="#000080"/>
<rect x="90.01" y="460.71" width="27.03" height="5.27" fill="#000080"/>
<rect x="117.04" y="460.71" width="27.03" height="5.27" fill="#000080"/>
<rect x="144.07" y="460.71" width="27.03" height="5.27" fill="#d0ff30"/>
<rect x="171.10" y="460.71" width="27.03" height="5.27" fill="#1090f0"/>
<rect x="198.13" y="460.71" width="27.03" height="5.27" fill="#ff9410"/>
<rect x="225.16" y="460.71" width="27.03" height="5.27" fill="#ff3c3c"/>
<rect x="252.19" y="460.71" width="27.03" height="5.27" fill="#ff5050"/>
<rect x="279.22" y="460.71" width="27.03" height="5.27" fill="#ff5050"/>
<rect x="306.25" y="460.71" width="25.05" height="5.27" fill="#ff1a10"/>
<rect x="35.95" y="465.98" width="27.03" height="5.27" fill="#000080"/>
<rect x="62.98" y="465.98" width="27.03" height="5.27" fill="#000080"/>
<rect x="90.01" y="465.98" width="27.03" height="5.27" fill="#000080"/>
<rect x="117.04" y="465.98" width="27.03" height="5.27" fill="#000080"/>
<rect x="144.07" y="465.98" width="27.03" height="5.27" fill="#ff4010"/>
<rect x="171.10" y="465.98" width="27.03" height="5.27" fill="#ff2a2a"/>
<rect x="198.13" y="465.98" width="27.03" height="5.27" fill="#fff010"/>
<rect x="225.16" y="465.98" width="27.03" height="5.27" fill="#ff2a2a"/>
<rect x="252.19" y="465.98" width="27.03" height="5.27" fill="#ff2a2a"/>
<rect x="279.22" y="465.98" width="27.03" height="5.27" fill="#ff5050"/>
<rect x="306.25" y="465.98" width="25.05" height="5.27" fill="#ff5050"/>
<rect x="35.95" y="471.25" width="27.03" height="5.27" fill="#000080"/>
<rect x="62.98" y="471.25" width="27.03" height="5.27" fill="#48ffc0"/>
<rect x="90.01" y="471.25" width="27.03" height="5.27" fill="#000080"/>
<rect x="117.04" y="471.25" width="27.03" height="5.27" fill="#fff010"/>
<rect x="144.07" y="471.25" width="27.03" height="5.27" fill="#ff2a2a"/>
<rect x="171.10" y="471.25" width="27.03" height="5.27" fill="#ff2a2a"/>
<rect x="198.13" y="471.25" width="27.03" height="5.27" fill="#ff1a10"/>
<rect x="225.16" y="471.25" width="27.03" height="5.27" fill="#ff3c3c"/>
<rect x="252.19" y="471.25" width="27.03" height="5.27" fill="#ff3c3c"/>
<rect x="279.22" y="471.25" width="27.03" height="5.27" fill="#ff5050"/>
<rect x="306.25" y="471.25" width="25.05" height="5.27" fill="#ff5050"/>
<rect x="35.95" y="476.52" width="27.03" height="5.27" fill="#000080"/>
<rect x="62.98" y="476.52" width="27.03" height="5.27" fill="#000080"/>
<rect x="90.01" y="476.52" width="27.03" height="5.27" fill="#000080"/>
<rect x="117.04" y="476.52" width="27.03" height="5.27" fill="#ffc010"/>
<rect x="144.07" y="476.52" width="27.03" height="5.27" fill="#ff2a2a"/>
<rect x="171.10" y="476.52" width="27.03" height="5.27" fill="#ff4010"/>
<rect x="198.13" y="476.52" width="27.03" height="5.27" fill="#d0ff30"/>
<rect x="225.16" y="476.52" width="27.03" height="5.27" fill="#ff3c3c"/>
<rect x="252.19" y="476.52" width="27.03" height="5.27" fill="#ff3c3c"/>
<rect x="279.22" y="476.52" width="27.03" height="5.27" fill="#ff3c3c"/>
<rect x="306.25" y="476.52" width="25.05" height="5.27" fill="#ff5050"/>
<rect x="35.95" y="481.79" width="27.03" height="5.27" fill="#000080"/>
<rect x="62.98" y="481.79" width="27.03" height="5.27" fill="#000080"/>
<rect x="90.01" y="481.79" width="27.03" height="5.27" fill="#000080"/>
<rect x="117.04" y="481.79" width="27.03" height="5.27" fill="#48ffc0"/>
<rect x="144.07" y="481.79" width="27.03" height="5.27" fill="#80ff80"/>
<rect x="171.10" y="481.79" width="27.03" height="5.27" fill="#ff6410"/>
<rect x="198.13" y="481.79" width="27.03" height="5.27" fill="#ff1a10"/>
<rect x="225.16" y="481.79" width="27.03" height="5.27" fill="#ff2a2a"/>
<rect x="252.19" y="481.79" width="27.03" height="5.27" fill="#ff2a2a"/>
<rect x="279.22" y="481.79" width="27.03" height="5.27" fill="#ff2a2a"/>
<rect x="306.25" y="481.79" width="25.05" height="5.27" fill="#ff2a2a"/>
<rect x="35.95" y="487.06" width="27.03" height="5.44" fill="#000080"/>
<rect x="62.98" y="487.06" width="27.03" height="5.44" fill="#000080"/>
<rect x="90.01" y="487.06" width="27.03" height="5.44" fill="#000080"/>
<rect x="117.04" y="487.06" width="27.03" height="5.44" fill="#000080"/>
<rect x="144.07" y="487.06" width="27.03" height="5.44" fill="#fff010"/>
<rect x="171.10" y="487.06" width="27.03" height="5.44" fill="#ff6410"/>
<rect x="198.13" y="487.06" width="27.03" height="5.44" fill="#ff4010"/>
<rect x="225.16" y="487.06" width="27.03" height="5.44" fill="#ff4010"/>
<rect x="252.19" y="487.06" width="27.03" height="5.44" fill="#ff6410"/>
<rect x="279.22" y="487.06" width="27.03" height="5.44" fill="#ff9410"/>
<rect x="306.25" y="487.06" width="25.05" height="5.44" fill="#ff6410"/>
</g>
<line x1="38.50" y1="281.40" x2="38.50" y2="284.40" stroke="#000" stroke-width="1.0"/>
<line x1="38.50" y1="492.50" x2="38.50" y2="489.50" stroke="#000" stroke-width="1.0"/>
<line x1="42.50" y1="281.40" x2="42.50" y2="284.40" stroke="#000" stroke-width="1.0"/>
<line x1="42.50" y1="492.50" x2="42.50" y2="489.50" stroke="#000" stroke-width="1.0"/>
<line x1="46.50" y1="281.40" x2="46.50" y2="284.40" stroke="#000" stroke-width="1.0"/>
<line x1="46.50" y1="492.50" x2="46.50" y2="489.50" stroke="#000" stroke-width="1.0"/>
<line x1="49.50" y1="281.40" x2="49.50" y2="287.40" stroke="#000" stroke-width="1.0"/>
<line x1="49.50" y1="492.50" x2="49.50" y2="486.50" stroke="#000" stroke-width="1.0"/>
<line x1="69.50" y1="281.40" x2="69.50" y2="284.40" stroke="#000" stroke-width="1.0"/>
<line x1="69.50" y1="492.50" x2="69.50" y2="489.50" stroke="#000" stroke-width="1.0"/>
<line x1="81.50" y1="281.40" x2="81.50" y2="284.40" stroke="#000" stroke-width="1.0"/>
<line x1="81.50" y1="492.50" x2="81.50" y2="489.50" stroke="#000" stroke-width="1.0"/>
<line x1="89.50" y1="281.40" x2="89.50" y2="284.40" stroke="#000" stroke-width="1.0"/>
<line x1="89.50" y1="492.50" x2="89.50" y2="489.50" stroke="#000" stroke-width="1.0"/>
<line x1="96.50" y1="281.40" x2="96.50" y2="284.40" stroke="#000" stroke-width="1.0"/>
<line x1="96.50" y1="492.50" x2="96.50" y2="489.50" stroke="#000" stroke-width="1.0"/>
<line x1="101.50" y1="281.40" x2="101.50" y2="284.40" stroke="#000" stroke-width="1.0"/>
<line x1="101.50" y1="492.50" x2="101.50" y2="489.50" stroke="#000" stroke-width="1.0"/>
<line x1="106.50" y1="281.40" x2="106.50" y2="284.40" stroke="#000" stroke-width="1.0"/>
<line x1="106.50" y1="492.50" x2="106.50" y2="489.50" stroke="#000" stroke-width="1.0"/>
<line x1="110.50" y1="281.40" x2="110.50" y2="284.40" stroke="#000" stroke-width="1.0"/>
<line x1="110.50" y1="492.50" x2="110.50" y2="489.50" stroke="#000" stroke-width="1.0"/>
<line x1="113.50" y1="281.40" x2="113.50" y2="284.40" stroke="#000" stroke-width="1.0"/>
<line x1="113.50" y1="492.50" x2="113.50" y2="489.50" stroke="#000" stroke-width="1.0"/>
<line x1="116.50" y1="281.40" x2="116.50" y2="287.40" stroke="#000" stroke-width="1.0"/>
<line x1="116.50" y1="492.50" x2="116.50" y2="486.50" stroke="#000" stroke-width="1.0"/>
<line x1="137.50" y1="281.40" x2="137.50" y2="284.40" stroke="#000" stroke-width="1.0"/>
<line x1="137.50" y1="492.50" x2="137.50" y2="489.50" stroke="#000" stroke-width="1.0"/>
<line x1="148.50" y1="281.40" x2="148.50" y2="284.40" stroke="#000" stroke-width="1.0"/>
<line x1="148.50" y1="492.50" x2="148.50" y2="489.50" stroke="#000" stroke-width="1.0"/>
<line x1="157.50" y1="281.40" x2="157.50" y2="284.40" stroke="#000" stroke-width="1.0"/>
<line x1="157.50" y1="492.50" x2="157.50" y2="489.50" stroke="#000" stroke-width="1.0"/>
<line x1="163.50" y1="281.40" x2="163.50" y2="284.40" stroke="#000" stroke-width="1.0"/>
<line x1="163.50" y1="492.50" x2="163.50" y2="489.50" stroke="#000" stroke-width="1.0"/>
<line x1="169.50" y1="281.40" x2="169.50" y2="284.40" stroke="#000" stroke-width="1.0"/>
<line x1="169.50" y1="492.50" x2="169.50" y2="489.50" stroke="#000" stroke-width="1.0"/>
<line x1="173.50" y1="281.40" x2="173.50" y2="284.40" stroke="#000" stroke-width="1.0"/>
<line x1="173.50" y1="492.50" x2="173.50" y2="489.50" stroke="#000" stroke-width="1.0"/>
<line x1="177.50" y1="281.40" x2="177.50" y2="284.40" stroke="#000" stroke-width="1.0"/>
<line x1="177.50" y1="492.50" x2="177.50" y2="489.50" stroke="#000" stroke-width="1.0"/>
<line x1="181.50" y1="281.40" x2="181.50" y2="284.40" stroke="#000" stroke-width="1.0"/>
<line x1="181.50" y1="492.50" x2="181.50" y2="489.50" stroke="#000" stroke-width="1.0"/>
<line x1="184.50" y1="281.40" x2="184.50" y2="287.40" stroke="#000" stroke-width="1.0"/>
<line x1="184.50" y1="492.50" x2="184.50" y2="486.50" stroke="#000" stroke-width="1.0"/>
<line x1="204.50" y1="281.40" x2="204.50" y2="284.40" stroke="#000" stroke-width="1.0"/>
<line x1="204.50" y1="492.50" x2="204.50" y2="489.50" stroke="#000" stroke-width="1.0"/>
<line x1="216.50" y1="281.40" x2="216.50" y2="284.40" stroke="#000" stroke-width="1.0"/>
<line x1="216.50" y1="492.50" x2="216.50" y2="489.50" stroke="#000" stroke-width="1.0"/>
<line x1="224.50" y1="281.40" x2="224.50" y2="284.40" stroke="#000" stroke-width="1.0"/>
<line x1="224.50" y1="492.50" x2="224.50" y2="489.50" stroke="#000" stroke-width="1.0"/>
<line x1="231.50" y1="281.40" x2="231.50" y2="284.40" stroke="#000" stroke-width="1.0"/>
<line x1="231.50" y1="492.50" x2="231.50" y2="489.50" stroke="#000" stroke-width="1.0"/>
<line x1="236.50" y1="281.40" x2="236.50" y2="284.40" stroke="#000" stroke-width="1.0"/>
<line x1="236.50" y1="492.50" x2="236.50" y2="489.50" stroke="#000" stroke-width="1.0"/>
<line x1="241.50" y1="281.40" x2="241.50" y2="284.40" stroke="#000" stroke-width="1.0"/>
<line x1="241.50" y1="492.50" x2="241.50" y2="489.50" stroke="#000" stroke-width="1.0"/>
<line x1="245.50" y1="281.40" x2="245.50" y2="284.40" stroke="#000" stroke-width="1.0"/>
<line x1="245.50" y1="492.50" x2="245.50" y2="489.50" stroke="#000" stroke-width="1.0"/>
<line x1="248.50" y1="281.40" x2="248.50" y2="284.40" stroke="#000" stroke-width="1.0"/>
<line x1="248.50" y1="492.50" x2="248.50" y2="489.50" stroke="#000" stroke-width="1.0"/>
<line x1="251.50" y1="281.40" x2="251.50" y2="287.40" stroke="#000" stroke-width="1.0"/>
<line x1="251.50" y1="492.50" x2="251.50" y2="486.50" stroke="#000" stroke-width="1.0"/>
<line x1="272.50" y1="281.40" x2="272.50" y2="284.40" stroke="#000" stroke-width="1.0"/>
<line x1="272.50" y1="492.50" x2="272.50" y2="489.50" stroke="#000" stroke-width="1.0"/>
<line x1="284.50" y1="281.40" x2="284.50" y2="284.40" stroke="#000" stroke-width="1.0"/>
<line x1="284.50" y1="492.50" x2="284.50" y2="489.50" stroke="#000" stroke-width="1.0"/>
<line x1="292.50" y1="281.40" x2="292.50" y2="284.40" stroke="#000" stroke-width="1.0"/>
<line x1="292.50" y1="492.50" x2="292.50" y2="489.50" stroke="#000" stroke-width="1.0"/>
<line x1="299.50" y1="281.40" x2="299.50" y2="284.40" stroke="#000" stroke-width="1.0"/>
<line x1="299.50" y1="492.50" x2="299.50" y2="489.50" stroke="#000" stroke-width="1.0"/>
<line x1="304.50" y1="281.40" x2="304.50" y2="284.40" stroke="#000" stroke-width="1.0"/>
<line x1="304.50" y1="492.50" x2="304.50" y2="489.50" stroke="#000" stroke-width="1.0"/>
<line x1="309.50" y1="281.40" x2="309.50" y2="284.40" stroke="#000" stroke-width="1.0"/>
<line x1="309.50" y1="492.50" x2="309.50" y2="489.50" stroke="#000" stroke-width="1.0"/>
<line x1="312.50" y1="281.40" x2="312.50" y2="284.40" stroke="#000" stroke-width="1.0"/>
<line x1="312.50" y1="492.50" x2="312.50" y2="489.50" stroke="#000" stroke-width="1.0"/>
<line x1="316.50" y1="281.40" x2="316.50" y2="284.40" stroke="#000" stroke-width="1.0"/>
<line x1="316.50" y1="492.50" x2="316.50" y2="489.50" stroke="#000" stroke-width="1.0"/>
<line x1="319.50" y1="281.40" x2="319.50" y2="287.40" stroke="#000" stroke-width="1.0"/>
<line x1="319.50" y1="492.50" x2="319.50" y2="486.50" stroke="#000" stroke-width="1.0"/>
<line x1="36.00" y1="489.50" x2="42.00" y2="489.50" stroke="#000" stroke-width="1.0"/>
<line x1="331.30" y1="489.50" x2="325.30" y2="489.50" stroke="#000" stroke-width="1.0"/>
<line x1="36.00" y1="456.50" x2="39.00" y2="456.50" stroke="#000" stroke-width="1.0"/>
<line x1="331.30" y1="456.50" x2="328.30" y2="456.50" stroke="#000" stroke-width="1.0"/>
<line x1="36.00" y1="422.50" x2="42.00" y2="422.50" stroke="#000" stroke-width="1.0"/>
<line x1="331.30" y1="422.50" x2="325.30" y2="422.50" stroke="#000" stroke-width="1.0"/>
<line x1="36.00" y1="389.50" x2="39.00" y2="389.50" stroke="#000" stroke-width="1.0"/>
<line x1="331.30" y1="389.50" x2="328.30" y2="389.50" stroke="#000" stroke-width="1.0"/>
<line x1="36.00" y1="355.50" x2="42.00" y2="355.50" stroke="#000" stroke-width="1.0"/>
<line x1="331.30" y1="355.50" x2="325.30" y2="355.50" stroke="#000" stroke-width="1.0"/>
<line x1="36.00" y1="322.50" x2="39.00" y2="322.50" stroke="#000" stroke-width="1.0"/>
<line x1="331.30" y1="322.50" x2="328.30" y2="322.50" stroke="#000" stroke-width="1.0"/>
<line x1="36.00" y1="288.50" x2="42.00" y2="288.50" stroke="#000" stroke-width="1.0"/>
<line x1="331.30" y1="288.50" x2="325.30" y2="288.50" stroke="#000" stroke-width="1.0"/>
<rect x="36.00" y="281.40" width="295.30" height="211.10" fill="none" stroke="#000" stroke-width="1.2"/>
<rect x="331.30" y="0.70" width="21.30" height="211.30" fill="url(#cb)"/>
<line x1="331.30" y1="204.50" x2="335.30" y2="204.50" stroke="#000" stroke-width="1.0"/>
<line x1="352.60" y1="204.50" x2="348.60" y2="204.50" stroke="#000" stroke-width="1.0"/>
<line x1="331.30" y1="174.50" x2="335.30" y2="174.50" stroke="#000" stroke-width="1.0"/>
<line x1="352.60" y1="174.50" x2="348.60" y2="174.50" stroke="#000" stroke-width="1.0"/>
<line x1="331.30" y1="144.50" x2="335.30" y2="144.50" stroke="#000" stroke-width="1.0"/>
<line x1="352.60" y1="144.50" x2="348.60" y2="144.50" stroke="#000" stroke-width="1.0"/>
<line x1="331.30" y1="114.50" x2="335.30" y2="114.50" stroke="#000" stroke-width="1.0"/>
<line x1="352.60" y1="114.50" x2="348.60" y2="114.50" stroke="#000" stroke-width="1.0"/>
<line x1="331.30" y1="85.50" x2="335.30" y2="85.50" stroke="#000" stroke-width="1.0"/>
<line x1="352.60" y1="85.50" x2="348.60" y2="85.50" stroke="#000" stroke-width="1.0"/>
<line x1="331.30" y1="55.50" x2="335.30" y2="55.50" stroke="#000" stroke-width="1.0"/>
<line x1="352.60" y1="55.50" x2="348.60" y2="55.50" stroke="#000" stroke-width="1.0"/>
<line x1="331.30" y1="25.50" x2="335.30" y2="25.50" stroke="#000" stroke-width="1.0"/>
<line x1="352.60" y1="25.50" x2="348.60" y2="25.50" stroke="#000" stroke-width="1.0"/>
<rect x="331.30" y="0.70" width="21.30" height="211.30" fill="none" stroke="#000" stroke-width="1.5"/>
<text transform="translate(364.40,174.30) rotate(-90)" font-size="10.8" text-anchor="middle" font-family="'Liberation Sans', sans-serif" font-weight="bold">1.4x10<tspan font-size="7.5" dy="-4.0">5</tspan></text>
<text transform="translate(364.40,114.50) rotate(-90)" font-size="10.8" text-anchor="middle" font-family="'Liberation Sans', sans-serif" font-weight="bold">1.6x10<tspan font-size="7.5" dy="-4.0">5</tspan></text>
<text transform="translate(364.40,54.70) rotate(-90)" font-size="10.8" text-anchor="middle" font-family="'Liberation Sans', sans-serif" font-weight="bold">1.8x10<tspan font-size="7.5" dy="-4.0">5</tspan></text>
<text transform="translate(373.00,15.00) rotate(-90)" font-size="10" text-anchor="start" font-family="'Liberation Sans', sans-serif" font-weight="bold">χ<tspan font-size="8.4" dx="4.5" dy="-4">2</tspan></text>
<rect x="709.40" y="0.70" width="21.10" height="211.30" fill="url(#cb)"/>
<line x1="709.40" y1="204.50" x2="713.40" y2="204.50" stroke="#000" stroke-width="1.0"/>
<line x1="730.50" y1="204.50" x2="726.50" y2="204.50" stroke="#000" stroke-width="1.0"/>
<line x1="709.40" y1="174.50" x2="713.40" y2="174.50" stroke="#000" stroke-width="1.0"/>
<line x1="730.50" y1="174.50" x2="726.50" y2="174.50" stroke="#000" stroke-width="1.0"/>
<line x1="709.40" y1="144.50" x2="713.40" y2="144.50" stroke="#000" stroke-width="1.0"/>
<line x1="730.50" y1="144.50" x2="726.50" y2="144.50" stroke="#000" stroke-width="1.0"/>
<line x1="709.40" y1="114.50" x2="713.40" y2="114.50" stroke="#000" stroke-width="1.0"/>
<line x1="730.50" y1="114.50" x2="726.50" y2="114.50" stroke="#000" stroke-width="1.0"/>
<line x1="709.40" y1="85.50" x2="713.40" y2="85.50" stroke="#000" stroke-width="1.0"/>
<line x1="730.50" y1="85.50" x2="726.50" y2="85.50" stroke="#000" stroke-width="1.0"/>
<line x1="709.40" y1="55.50" x2="713.40" y2="55.50" stroke="#000" stroke-width="1.0"/>
<line x1="730.50" y1="55.50" x2="726.50" y2="55.50" stroke="#000" stroke-width="1.0"/>
<line x1="709.40" y1="25.50" x2="713.40" y2="25.50" stroke="#000" stroke-width="1.0"/>
<line x1="730.50" y1="25.50" x2="726.50" y2="25.50" stroke="#000" stroke-width="1.0"/>
<rect x="709.40" y="0.70" width="21.10" height="211.30" fill="none" stroke="#000" stroke-width="1.5"/>
<text transform="translate(742.30,174.30) rotate(-90)" font-size="10.8" text-anchor="middle" font-family="'Liberation Sans', sans-serif" font-weight="bold">1.4x10<tspan font-size="7.5" dy="-4.0">5</tspan></text>
<text transform="translate(742.30,114.50) rotate(-90)" font-size="10.8" text-anchor="middle" font-family="'Liberation Sans', sans-serif" font-weight="bold">1.6x10<tspan font-size="7.5" dy="-4.0">5</tspan></text>
<text transform="translate(742.30,54.70) rotate(-90)" font-size="10.8" text-anchor="middle" font-family="'Liberation Sans', sans-serif" font-weight="bold">1.8x10<tspan font-size="7.5" dy="-4.0">5</tspan></text>
<text transform="translate(750.90,15.00) rotate(-90)" font-size="10" text-anchor="start" font-family="'Liberation Sans', sans-serif" font-weight="bold">χ<tspan font-size="8.4" dx="4.5" dy="-4">2</tspan></text>
<rect x="331.30" y="281.40" width="21.30" height="211.10" fill="url(#cb)"/>
<line x1="331.30" y1="485.50" x2="335.30" y2="485.50" stroke="#000" stroke-width="1.0"/>
<line x1="352.60" y1="485.50" x2="348.60" y2="485.50" stroke="#000" stroke-width="1.0"/>
<line x1="331.30" y1="455.50" x2="335.30" y2="455.50" stroke="#000" stroke-width="1.0"/>
<line x1="352.60" y1="455.50" x2="348.60" y2="455.50" stroke="#000" stroke-width="1.0"/>
<line x1="331.30" y1="425.50" x2="335.30" y2="425.50" stroke="#000" stroke-width="1.0"/>
<line x1="352.60" y1="425.50" x2="348.60" y2="425.50" stroke="#000" stroke-width="1.0"/>
<line x1="331.30" y1="395.50" x2="335.30" y2="395.50" stroke="#000" stroke-width="1.0"/>
<line x1="352.60" y1="395.50" x2="348.60" y2="395.50" stroke="#000" stroke-width="1.0"/>
<line x1="331.30" y1="365.50" x2="335.30" y2="365.50" stroke="#000" stroke-width="1.0"/>
<line x1="352.60" y1="365.50" x2="348.60" y2="365.50" stroke="#000" stroke-width="1.0"/>
<line x1="331.30" y1="335.50" x2="335.30" y2="335.50" stroke="#000" stroke-width="1.0"/>
<line x1="352.60" y1="335.50" x2="348.60" y2="335.50" stroke="#000" stroke-width="1.0"/>
<line x1="331.30" y1="305.50" x2="335.30" y2="305.50" stroke="#000" stroke-width="1.0"/>
<line x1="352.60" y1="305.50" x2="348.60" y2="305.50" stroke="#000" stroke-width="1.0"/>
<rect x="331.30" y="281.40" width="21.30" height="211.10" fill="none" stroke="#000" stroke-width="1.5"/>
<text transform="translate(364.40,454.70) rotate(-90)" font-size="10.8" text-anchor="middle" font-family="'Liberation Sans', sans-serif" font-weight="bold">1.4x10<tspan font-size="7.5" dy="-4.0">5</tspan></text>
<text transform="translate(364.40,394.90) rotate(-90)" font-size="10.8" text-anchor="middle" font-family="'Liberation Sans', sans-serif" font-weight="bold">1.6x10<tspan font-size="7.5" dy="-4.0">5</tspan></text>
<text transform="translate(364.40,335.10) rotate(-90)" font-size="10.8" text-anchor="middle" font-family="'Liberation Sans', sans-serif" font-weight="bold">1.8x10<tspan font-size="7.5" dy="-4.0">5</tspan></text>
<text transform="translate(373.00,295.40) rotate(-90)" font-size="10" text-anchor="start" font-family="'Liberation Sans', sans-serif" font-weight="bold">χ<tspan font-size="8.4" dx="4.5" dy="-4">2</tspan></text>
<circle cx="328.6" cy="475.6" r="4.6" fill="#000"/>
<text transform="translate(28.80,10.00) rotate(-90)" font-size="14" text-anchor="middle" font-family="'Liberation Sans', sans-serif" font-weight="bold">1</text>
<text transform="translate(28.80,58.00) rotate(-90)" font-size="14" text-anchor="middle" font-family="'Liberation Sans', sans-serif" font-weight="bold">0.1</text>
<text transform="translate(28.80,106.00) rotate(-90)" font-size="14" text-anchor="middle" font-family="'Liberation Sans', sans-serif" font-weight="bold">0.01</text>
<text transform="translate(28.80,152.50) rotate(-90)" font-size="14" text-anchor="middle" font-family="'Liberation Sans', sans-serif" font-weight="bold">10<tspan font-size="8.8" dy="-7">−3</tspan></text>
<text transform="translate(28.80,200.90) rotate(-90)" font-size="14" text-anchor="middle" font-family="'Liberation Sans', sans-serif" font-weight="bold">10<tspan font-size="8.8" dy="-7">−4</tspan></text>
<text transform="translate(10.20,105.70) rotate(-90)" font-size="14" text-anchor="middle" font-family="'Liberation Sans', sans-serif" font-weight="bold">q</text>
<text x="100.31" y="227.90" font-size="14" text-anchor="middle" font-family="'Liberation Sans', sans-serif" font-weight="bold">0.5</text>
<text x="177.70" y="227.90" font-size="14" text-anchor="middle" font-family="'Liberation Sans', sans-serif" font-weight="bold">1</text>
<text x="255.09" y="227.90" font-size="14" text-anchor="middle" font-family="'Liberation Sans', sans-serif" font-weight="bold">2</text>
<text x="184.80" y="252.50" font-size="13" text-anchor="middle" font-family="'Liberation Sans', sans-serif" font-weight="bold">s (R<tspan font-size="10.5" dy="4.5">E</tspan><tspan dy="-4.5">)</tspan></text>
<text x="477.91" y="227.90" font-size="14" text-anchor="middle" font-family="'Liberation Sans', sans-serif" font-weight="bold">0.5</text>
<text x="555.30" y="227.90" font-size="14" text-anchor="middle" font-family="'Liberation Sans', sans-serif" font-weight="bold">1</text>
<text x="632.69" y="227.90" font-size="14" text-anchor="middle" font-family="'Liberation Sans', sans-serif" font-weight="bold">2</text>
<text x="562.40" y="252.50" font-size="13" text-anchor="middle" font-family="'Liberation Sans', sans-serif" font-weight="bold">s (R<tspan font-size="10.5" dy="4.5">E</tspan><tspan dy="-4.5">)</tspan></text>
<text transform="translate(406.80,209.30) rotate(-90)" font-size="14" text-anchor="middle" font-family="'Liberation Sans', sans-serif" font-weight="bold">0</text>
<text transform="translate(406.80,142.30) rotate(-90)" font-size="14" text-anchor="middle" font-family="'Liberation Sans', sans-serif" font-weight="bold">2</text>
<text transform="translate(406.80,75.30) rotate(-90)" font-size="14" text-anchor="middle" font-family="'Liberation Sans', sans-serif" font-weight="bold">4</text>
<text transform="translate(406.80,8.30) rotate(-90)" font-size="14" text-anchor="middle" font-family="'Liberation Sans', sans-serif" font-weight="bold">6</text>
<text transform="translate(387.50,107.00) rotate(-90)" font-size="14" text-anchor="middle" font-family="'Liberation Sans', sans-serif" font-weight="bold"><tspan font-style="italic">θ</tspan></text>
<text x="184.30" y="508.70" font-size="14" text-anchor="middle" font-family="'Liberation Sans', sans-serif" font-weight="bold">0.01</text>
<text x="251.90" y="508.70" font-size="14" text-anchor="middle" font-family="'Liberation Sans', sans-serif" font-weight="bold">0.1</text>
<text x="319.50" y="508.70" font-size="14" text-anchor="middle" font-family="'Liberation Sans', sans-serif" font-weight="bold">1</text>
<text x="49.10" y="508.70" font-size="14" text-anchor="middle" font-family="'Liberation Sans', sans-serif" font-weight="bold">10<tspan font-size="8.8" dy="-7">−4</tspan></text>
<text x="116.70" y="508.70" font-size="14" text-anchor="middle" font-family="'Liberation Sans', sans-serif" font-weight="bold">10<tspan font-size="8.8" dy="-7">−3</tspan></text>
<text x="184.40" y="534.00" font-size="14" text-anchor="middle" font-family="'Liberation Sans', sans-serif" font-weight="bold">q</text>
<text transform="translate(29.20,489.70) rotate(-90)" font-size="14" text-anchor="middle" font-family="'Liberation Sans', sans-serif" font-weight="bold">0</text>
<text transform="translate(29.20,422.70) rotate(-90)" font-size="14" text-anchor="middle" font-family="'Liberation Sans', sans-serif" font-weight="bold">2</text>
<text transform="translate(29.20,355.70) rotate(-90)" font-size="14" text-anchor="middle" font-family="'Liberation Sans', sans-serif" font-weight="bold">4</text>
<text transform="translate(29.20,288.70) rotate(-90)" font-size="14" text-anchor="middle" font-family="'Liberation Sans', sans-serif" font-weight="bold">6</text>
<text transform="translate(10.00,387.40) rotate(-90)" font-size="14" text-anchor="middle" font-family="'Liberation Sans', sans-serif" font-weight="bold"><tspan font-style="italic">θ</tspan></text>
</svg>
</body></html>
